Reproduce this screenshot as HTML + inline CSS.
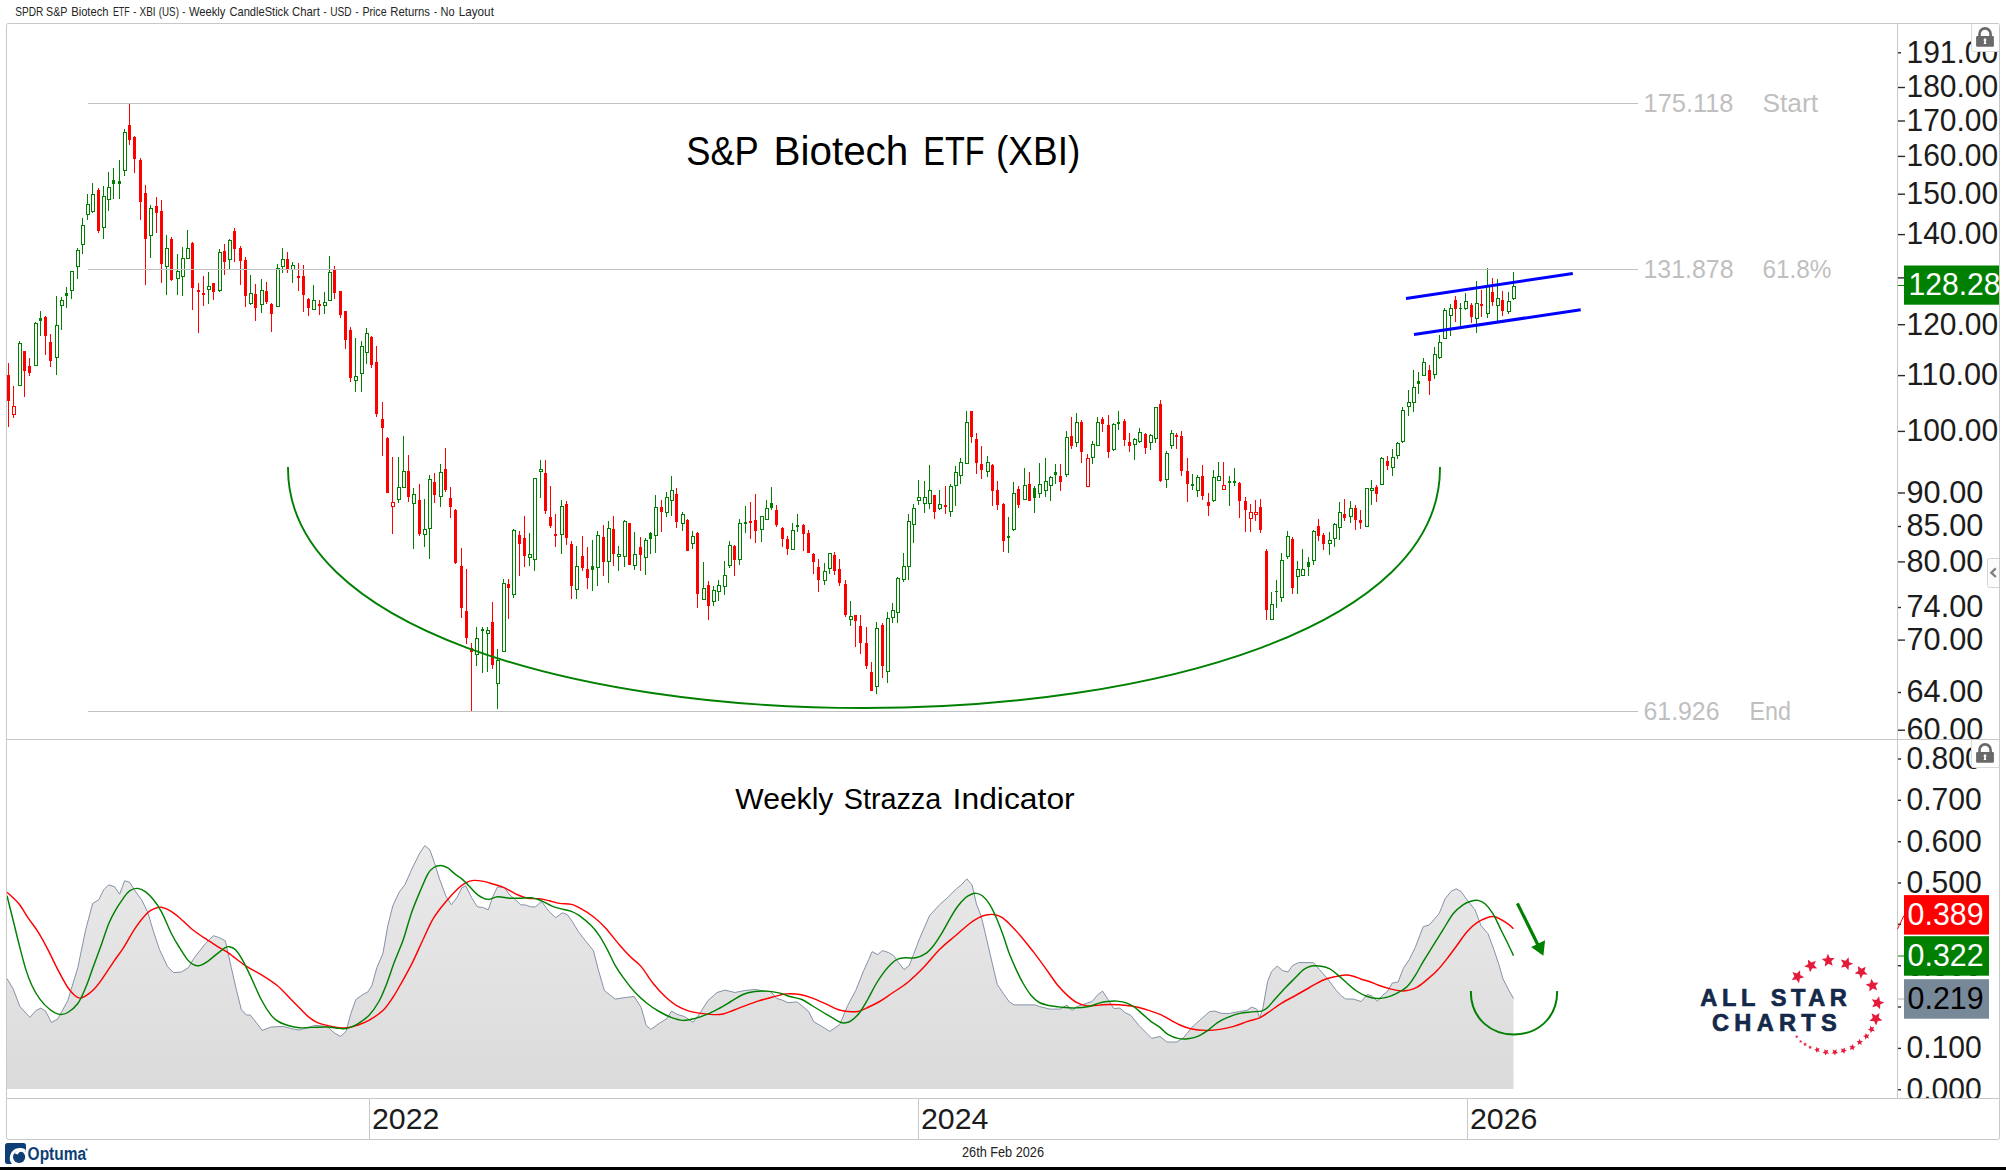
<!DOCTYPE html>
<html lang="en"><head><meta charset="utf-8"><title>SPDR S&amp;P Biotech ETF - XBI (US) - Weekly CandleStick Chart</title>
<style>html,body{margin:0;padding:0;background:#fff;}body{width:2006px;height:1170px;overflow:hidden;}svg{display:block;}text{font-family:"Liberation Sans", "DejaVu Sans", sans-serif;}</style>
</head><body>
<svg width="2006" height="1170" viewBox="0 0 2006 1170">
<defs>
<linearGradient id="gfill" x1="0" y1="845" x2="0" y2="1089" gradientUnits="userSpaceOnUse"><stop offset="0" stop-color="#eaeaea"/><stop offset="1" stop-color="#dbdbdb"/></linearGradient>
<clipPath id="cpPrice"><rect x="7" y="24" width="1890" height="715"/></clipPath>
<clipPath id="cpAxis1"><rect x="1898" y="24" width="101" height="715"/></clipPath>
<clipPath id="cpAxis2"><rect x="1898" y="740" width="101" height="358"/></clipPath>
<clipPath id="cpInd"><rect x="7" y="740" width="1890" height="358"/></clipPath>
</defs>
<rect x="0" y="0" width="2006" height="1170" fill="#ffffff"/>
<text x="15.2" y="16.2" font-size="12.6" fill="#252525" textLength="28.0" lengthAdjust="spacingAndGlyphs">SPDR</text>
<text x="46.1" y="16.2" font-size="12.6" fill="#252525" textLength="21.3" lengthAdjust="spacingAndGlyphs">S&amp;P</text>
<text x="71.2" y="16.2" font-size="12.6" fill="#252525" textLength="37.3" lengthAdjust="spacingAndGlyphs">Biotech</text>
<text x="112.9" y="16.2" font-size="12.6" fill="#252525" textLength="16.8" lengthAdjust="spacingAndGlyphs">ETF</text>
<text x="133.3" y="16.2" font-size="12.6" fill="#252525" textLength="3.0" lengthAdjust="spacingAndGlyphs">-</text>
<text x="139.6" y="16.2" font-size="12.6" fill="#252525" textLength="16.0" lengthAdjust="spacingAndGlyphs">XBI</text>
<text x="158.8" y="16.2" font-size="12.6" fill="#252525" textLength="20.1" lengthAdjust="spacingAndGlyphs">(US)</text>
<text x="182.3" y="16.2" font-size="12.6" fill="#252525" textLength="3.0" lengthAdjust="spacingAndGlyphs">-</text>
<text x="188.9" y="16.2" font-size="12.6" fill="#252525" textLength="36.5" lengthAdjust="spacingAndGlyphs">Weekly</text>
<text x="229.5" y="16.2" font-size="12.6" fill="#252525" textLength="59.2" lengthAdjust="spacingAndGlyphs">CandleStick</text>
<text x="292.1" y="16.2" font-size="12.6" fill="#252525" textLength="27.7" lengthAdjust="spacingAndGlyphs">Chart</text>
<text x="323.6" y="16.2" font-size="12.6" fill="#252525" textLength="3.0" lengthAdjust="spacingAndGlyphs">-</text>
<text x="330.2" y="16.2" font-size="12.6" fill="#252525" textLength="21.4" lengthAdjust="spacingAndGlyphs">USD</text>
<text x="355.6" y="16.2" font-size="12.6" fill="#252525" textLength="3.0" lengthAdjust="spacingAndGlyphs">-</text>
<text x="362.4" y="16.2" font-size="12.6" fill="#252525" textLength="24.2" lengthAdjust="spacingAndGlyphs">Price</text>
<text x="390.3" y="16.2" font-size="12.6" fill="#252525" textLength="39.7" lengthAdjust="spacingAndGlyphs">Returns</text>
<text x="434.0" y="16.2" font-size="12.6" fill="#252525" textLength="3.0" lengthAdjust="spacingAndGlyphs">-</text>
<text x="440.5" y="16.2" font-size="12.6" fill="#252525" textLength="14.1" lengthAdjust="spacingAndGlyphs">No</text>
<text x="458.7" y="16.2" font-size="12.6" fill="#252525" textLength="35.2" lengthAdjust="spacingAndGlyphs">Layout</text>
<g clip-path="url(#cpInd)">
<path d="M7.0,1089 L7.0,978.6 L13.0,988.5 L19.9,1006.5 L29.9,1017.4 L35.9,1010.5 L40.9,1008.1 L45.5,1011.1 L51.4,1022.4 L57.8,1019.0 L67.8,1000.5 L77.8,967.6 L85.7,929.7 L92.7,903.4 L98.7,899.8 L103.7,889.8 L108.7,884.8 L114.7,886.8 L119.6,894.2 L124.6,880.8 L129.6,882.2 L135.6,891.8 L141.6,899.8 L147.6,911.8 L153.5,931.7 L159.5,949.6 L167.5,966.6 L173.5,972.6 L181.5,972.0 L188.4,967.6 L194.4,957.6 L205.4,943.7 L213.4,935.7 L219.3,937.7 L225.3,940.7 L231.3,967.6 L236.3,989.5 L241.3,1009.5 L246.3,1015.0 L250.2,1015.0 L256.2,1022.4 L262.2,1030.4 L271.2,1027.0 L283.2,1026.4 L293.1,1029.0 L299.1,1030.0 L308.1,1027.4 L315.1,1025.4 L327.0,1026.4 L335.0,1033.4 L340.6,1036.4 L346.0,1031.4 L350.9,1013.4 L355.9,999.5 L362.9,994.5 L367.9,991.9 L371.9,985.5 L376.9,967.6 L382.9,953.6 L387.8,925.7 L392.8,905.8 L399.4,891.8 L404.9,884.8 L411.9,868.9 L419.9,852.9 L424.9,845.6 L429.9,849.9 L434.8,863.9 L439.8,879.9 L445.8,895.8 L451.4,904.8 L456.8,897.8 L461.8,887.8 L465.7,885.8 L471.7,897.8 L477.3,906.8 L482.7,907.4 L488.3,909.8 L492.7,896.8 L497.6,886.8 L504.6,887.8 L509.6,894.8 L515.6,899.8 L520.6,904.8 L525.6,905.0 L530.5,906.8 L535.5,906.8 L541.5,901.4 L548.5,910.8 L555.5,917.7 L562.5,912.8 L567.4,914.7 L572.4,921.7 L578.4,931.7 L585.4,940.7 L593.4,950.6 L598.3,969.6 L604.3,990.5 L609.3,994.5 L615.3,999.1 L625.3,997.5 L634.2,996.5 L641.2,1007.5 L646.2,1025.4 L650.8,1029.4 L659.2,1023.4 L667.1,1018.4 L671.5,1011.1 L677.1,1014.4 L684.1,1016.4 L693.1,1022.4 L701.0,1011.5 L708.0,1000.5 L717.0,992.5 L725.0,990.1 L734.9,992.5 L744.9,990.5 L755.9,989.5 L765.8,991.5 L770.8,991.5 L776.8,998.5 L781.9,999.9 L787.9,1002.7 L796.9,1001.9 L802.9,1006.5 L808.9,1011.9 L813.8,1021.8 L821.8,1026.4 L829.8,1031.4 L839.8,1024.4 L847.7,1005.5 L855.7,990.5 L863.7,970.6 L868.7,959.6 L872.1,951.6 L877.6,954.6 L882.6,950.6 L888.6,952.6 L893.6,955.6 L898.6,962.6 L904.0,969.6 L909.2,965.6 L913.5,954.6 L919.5,938.7 L929.5,915.7 L939.5,904.8 L947.4,897.8 L956.4,888.8 L961.4,884.8 L966.8,878.9 L972.0,884.8 L976.4,903.8 L981.3,916.7 L986.3,937.7 L992.3,963.6 L997.3,984.5 L1003.3,993.5 L1009.3,1001.9 L1014.2,1004.9 L1035.2,1004.9 L1039.2,1006.5 L1050.1,1009.1 L1060.1,1009.1 L1067.1,1005.1 L1072.1,1010.7 L1077.0,1006.5 L1085.0,1003.9 L1092.0,1001.5 L1098.0,994.5 L1102.6,991.1 L1108.0,999.5 L1113.9,1008.5 L1119.9,1008.1 L1124.9,1012.5 L1130.9,1015.4 L1138.9,1025.4 L1146.8,1033.4 L1151.8,1038.4 L1160.0,1036.4 L1166.9,1042.0 L1176.9,1042.0 L1183.9,1037.4 L1191.8,1027.4 L1201.8,1018.4 L1209.8,1011.5 L1214.8,1011.1 L1221.8,1013.4 L1229.7,1013.4 L1239.7,1011.5 L1246.7,1010.5 L1251.7,1007.1 L1256.7,1009.1 L1259.6,1017.4 L1262.6,1009.5 L1267.6,981.5 L1271.6,971.6 L1277.2,966.0 L1282.6,970.6 L1288.0,972.0 L1292.5,965.6 L1298.5,962.6 L1313.5,962.6 L1319.5,969.6 L1327.4,978.6 L1336.4,990.5 L1341.4,995.9 L1345.4,998.9 L1353.4,999.1 L1361.3,1001.5 L1367.3,994.5 L1372.3,996.1 L1377.3,1001.5 L1382.3,995.5 L1387.3,991.5 L1392.2,983.1 L1398.2,981.9 L1403.2,968.6 L1409.2,959.6 L1415.2,947.6 L1423.2,926.7 L1429.1,925.1 L1439.1,913.7 L1445.1,898.8 L1451.1,891.4 L1456.1,888.8 L1461.0,891.4 L1467.0,899.8 L1475.0,909.8 L1481.0,925.7 L1488.0,933.7 L1493.9,949.6 L1498.9,964.6 L1502.9,978.6 L1508.9,990.5 L1513.5,998.5 L1513.5,1089 Z" fill="url(#gfill)" stroke="none"/>
<path d="M7.0,978.6 L13.0,988.5 L19.9,1006.5 L29.9,1017.4 L35.9,1010.5 L40.9,1008.1 L45.5,1011.1 L51.4,1022.4 L57.8,1019.0 L67.8,1000.5 L77.8,967.6 L85.7,929.7 L92.7,903.4 L98.7,899.8 L103.7,889.8 L108.7,884.8 L114.7,886.8 L119.6,894.2 L124.6,880.8 L129.6,882.2 L135.6,891.8 L141.6,899.8 L147.6,911.8 L153.5,931.7 L159.5,949.6 L167.5,966.6 L173.5,972.6 L181.5,972.0 L188.4,967.6 L194.4,957.6 L205.4,943.7 L213.4,935.7 L219.3,937.7 L225.3,940.7 L231.3,967.6 L236.3,989.5 L241.3,1009.5 L246.3,1015.0 L250.2,1015.0 L256.2,1022.4 L262.2,1030.4 L271.2,1027.0 L283.2,1026.4 L293.1,1029.0 L299.1,1030.0 L308.1,1027.4 L315.1,1025.4 L327.0,1026.4 L335.0,1033.4 L340.6,1036.4 L346.0,1031.4 L350.9,1013.4 L355.9,999.5 L362.9,994.5 L367.9,991.9 L371.9,985.5 L376.9,967.6 L382.9,953.6 L387.8,925.7 L392.8,905.8 L399.4,891.8 L404.9,884.8 L411.9,868.9 L419.9,852.9 L424.9,845.6 L429.9,849.9 L434.8,863.9 L439.8,879.9 L445.8,895.8 L451.4,904.8 L456.8,897.8 L461.8,887.8 L465.7,885.8 L471.7,897.8 L477.3,906.8 L482.7,907.4 L488.3,909.8 L492.7,896.8 L497.6,886.8 L504.6,887.8 L509.6,894.8 L515.6,899.8 L520.6,904.8 L525.6,905.0 L530.5,906.8 L535.5,906.8 L541.5,901.4 L548.5,910.8 L555.5,917.7 L562.5,912.8 L567.4,914.7 L572.4,921.7 L578.4,931.7 L585.4,940.7 L593.4,950.6 L598.3,969.6 L604.3,990.5 L609.3,994.5 L615.3,999.1 L625.3,997.5 L634.2,996.5 L641.2,1007.5 L646.2,1025.4 L650.8,1029.4 L659.2,1023.4 L667.1,1018.4 L671.5,1011.1 L677.1,1014.4 L684.1,1016.4 L693.1,1022.4 L701.0,1011.5 L708.0,1000.5 L717.0,992.5 L725.0,990.1 L734.9,992.5 L744.9,990.5 L755.9,989.5 L765.8,991.5 L770.8,991.5 L776.8,998.5 L781.9,999.9 L787.9,1002.7 L796.9,1001.9 L802.9,1006.5 L808.9,1011.9 L813.8,1021.8 L821.8,1026.4 L829.8,1031.4 L839.8,1024.4 L847.7,1005.5 L855.7,990.5 L863.7,970.6 L868.7,959.6 L872.1,951.6 L877.6,954.6 L882.6,950.6 L888.6,952.6 L893.6,955.6 L898.6,962.6 L904.0,969.6 L909.2,965.6 L913.5,954.6 L919.5,938.7 L929.5,915.7 L939.5,904.8 L947.4,897.8 L956.4,888.8 L961.4,884.8 L966.8,878.9 L972.0,884.8 L976.4,903.8 L981.3,916.7 L986.3,937.7 L992.3,963.6 L997.3,984.5 L1003.3,993.5 L1009.3,1001.9 L1014.2,1004.9 L1035.2,1004.9 L1039.2,1006.5 L1050.1,1009.1 L1060.1,1009.1 L1067.1,1005.1 L1072.1,1010.7 L1077.0,1006.5 L1085.0,1003.9 L1092.0,1001.5 L1098.0,994.5 L1102.6,991.1 L1108.0,999.5 L1113.9,1008.5 L1119.9,1008.1 L1124.9,1012.5 L1130.9,1015.4 L1138.9,1025.4 L1146.8,1033.4 L1151.8,1038.4 L1160.0,1036.4 L1166.9,1042.0 L1176.9,1042.0 L1183.9,1037.4 L1191.8,1027.4 L1201.8,1018.4 L1209.8,1011.5 L1214.8,1011.1 L1221.8,1013.4 L1229.7,1013.4 L1239.7,1011.5 L1246.7,1010.5 L1251.7,1007.1 L1256.7,1009.1 L1259.6,1017.4 L1262.6,1009.5 L1267.6,981.5 L1271.6,971.6 L1277.2,966.0 L1282.6,970.6 L1288.0,972.0 L1292.5,965.6 L1298.5,962.6 L1313.5,962.6 L1319.5,969.6 L1327.4,978.6 L1336.4,990.5 L1341.4,995.9 L1345.4,998.9 L1353.4,999.1 L1361.3,1001.5 L1367.3,994.5 L1372.3,996.1 L1377.3,1001.5 L1382.3,995.5 L1387.3,991.5 L1392.2,983.1 L1398.2,981.9 L1403.2,968.6 L1409.2,959.6 L1415.2,947.6 L1423.2,926.7 L1429.1,925.1 L1439.1,913.7 L1445.1,898.8 L1451.1,891.4 L1456.1,888.8 L1461.0,891.4 L1467.0,899.8 L1475.0,909.8 L1481.0,925.7 L1488.0,933.7 L1493.9,949.6 L1498.9,964.6 L1502.9,978.6 L1508.9,990.5 L1513.5,998.5" fill="none" stroke="#8492a6" stroke-width="1" stroke-linejoin="round"/>
<path d="M7.0,892.2 C9.0,894.1 15.4,899.5 18.9,903.8 C22.4,908.0 24.7,913.1 27.9,917.7 C31.1,922.4 34.6,926.4 37.9,931.7 C41.2,937.0 44.6,943.3 47.9,949.6 C51.2,955.9 54.5,963.3 57.8,969.6 C61.1,975.9 65.0,983.2 67.8,987.5 C70.6,991.8 72.8,993.7 74.8,995.5 C76.8,997.3 78.0,998.0 79.8,998.1 C81.6,998.2 83.4,997.3 85.7,995.9 C88.0,994.5 91.0,992.2 93.7,989.5 C96.4,986.8 98.4,984.2 101.7,979.6 C105.0,975.0 110.1,966.9 113.7,961.6 C117.3,956.3 119.9,953.2 123.6,947.6 C127.2,942.0 131.6,933.5 135.6,927.7 C139.6,921.9 144.3,916.0 147.6,912.8 C150.9,909.5 153.2,909.1 155.5,908.2 C157.8,907.3 159.2,906.8 161.5,907.2 C163.8,907.6 166.5,908.6 169.5,910.4 C172.5,912.1 175.8,914.7 179.5,917.7 C183.2,920.8 187.1,925.2 191.4,928.7 C195.7,932.2 200.8,935.6 205.4,938.7 C210.1,941.9 215.3,945.1 219.3,947.6 C223.3,950.1 225.0,950.6 229.3,953.6 C233.6,956.6 240.0,962.1 245.3,965.6 C250.6,969.1 255.9,971.3 261.2,974.6 C266.5,977.9 272.2,981.4 277.2,985.5 C282.2,989.6 287.1,995.5 291.1,999.5 C295.1,1003.5 298.1,1006.5 301.1,1009.5 C304.1,1012.5 306.5,1015.2 309.1,1017.4 C311.8,1019.5 314.0,1021.1 317.0,1022.4 C320.0,1023.7 323.7,1024.6 327.0,1025.4 C330.3,1026.2 333.7,1027.0 337.0,1027.4 C340.3,1027.8 343.7,1028.1 347.0,1027.8 C350.3,1027.5 353.2,1026.6 356.9,1025.4 C360.5,1024.2 364.6,1022.9 368.9,1020.4 C373.2,1017.9 378.9,1014.3 382.9,1010.5 C386.9,1006.7 390.1,1001.5 392.8,997.5 C395.6,993.5 396.2,992.1 399.4,986.5 C402.6,980.9 407.8,971.7 411.9,963.6 C416.0,955.5 420.2,945.4 423.9,937.7 C427.5,930.1 430.1,923.7 433.8,917.7 C437.5,911.7 441.8,906.6 445.8,901.8 C449.8,897.0 454.5,892.0 457.8,888.8 C461.1,885.6 463.1,884.2 465.7,882.8 C468.3,881.4 470.7,880.6 473.7,880.4 C476.7,880.2 480.4,880.8 483.7,881.4 C487.0,882.0 490.4,883.2 493.7,884.2 C497.0,885.2 500.0,885.8 503.6,887.4 C507.2,889.0 511.6,892.0 515.6,893.8 C519.6,895.6 523.6,897.4 527.6,898.2 C531.6,899.0 535.9,898.4 539.5,898.8 C543.1,899.2 546.2,900.0 549.5,900.8 C552.8,901.6 555.9,902.8 559.5,903.4 C563.1,904.0 567.8,903.5 571.4,904.4 C575.0,905.3 577.7,906.8 581.4,908.8 C585.1,910.8 589.4,913.6 593.4,916.7 C597.4,919.9 601.0,923.0 605.3,927.7 C609.6,932.4 615.0,939.7 619.3,944.7 C623.6,949.7 627.6,954.0 631.2,957.6 C634.9,961.2 637.5,962.3 641.2,966.6 C644.9,970.9 649.2,978.5 653.2,983.5 C657.2,988.5 661.1,992.8 665.1,996.5 C669.1,1000.2 673.1,1003.5 677.1,1005.9 C681.1,1008.3 685.1,1009.9 689.1,1011.1 C693.1,1012.4 697.0,1012.8 701.0,1013.4 C705.0,1014.0 709.3,1014.5 713.0,1014.6 C716.7,1014.7 719.7,1014.7 723.0,1014.0 C726.3,1013.3 729.2,1011.9 732.9,1010.5 C736.5,1009.1 740.6,1007.5 744.9,1005.9 C749.2,1004.3 754.6,1002.3 758.9,1000.9 C763.2,999.5 767.3,998.5 770.8,997.5 C774.3,996.5 777.5,995.7 780.0,995.1 C782.5,994.5 782.6,994.0 785.9,993.9 C789.2,993.8 795.6,993.8 799.9,994.5 C804.2,995.2 807.5,996.3 811.8,997.9 C816.1,999.5 821.5,1002.0 825.8,1003.9 C830.1,1005.8 834.1,1008.2 837.8,1009.5 C841.4,1010.8 844.4,1011.2 847.7,1011.5 C851.0,1011.8 854.4,1012.2 857.7,1011.5 C861.0,1010.8 864.1,1009.2 867.7,1007.5 C871.4,1005.8 875.6,1003.8 879.6,1001.5 C883.6,999.2 886.9,996.7 891.6,993.5 C896.3,990.3 902.3,986.8 907.6,982.5 C912.9,978.2 918.2,973.1 923.5,967.6 C928.8,962.1 934.2,954.9 939.5,949.6 C944.8,944.3 950.4,940.0 955.4,935.7 C960.4,931.4 965.4,926.8 969.4,923.7 C973.4,920.6 976.3,918.8 979.3,917.3 C982.3,915.8 984.6,915.1 987.3,914.7 C990.0,914.3 992.8,914.2 995.3,914.7 C997.8,915.2 999.6,915.9 1002.3,917.7 C1004.9,919.5 1008.1,922.5 1011.2,925.7 C1014.4,928.9 1017.5,932.4 1021.2,936.7 C1024.9,941.0 1029.2,946.5 1033.2,951.6 C1037.2,956.8 1041.1,962.1 1045.1,967.6 C1049.1,973.1 1053.4,979.9 1057.1,984.5 C1060.8,989.1 1063.8,992.1 1067.1,995.1 C1070.4,998.1 1073.7,1000.9 1077.0,1002.7 C1080.3,1004.5 1083.3,1005.5 1087.0,1005.9 C1090.7,1006.3 1095.0,1005.3 1099.0,1005.1 C1103.0,1004.9 1106.2,1004.4 1110.9,1004.5 C1115.6,1004.6 1122.2,1005.0 1126.9,1005.5 C1131.6,1006.0 1134.9,1006.6 1138.9,1007.5 C1142.9,1008.4 1147.3,1010.0 1150.8,1011.1 C1154.3,1012.2 1157.5,1013.4 1160.0,1014.4 C1162.5,1015.4 1162.6,1015.6 1165.9,1017.4 C1169.2,1019.2 1175.6,1023.1 1179.9,1025.0 C1184.2,1026.9 1187.5,1028.1 1191.8,1029.0 C1196.1,1029.9 1201.1,1030.3 1205.8,1030.4 C1210.5,1030.5 1215.1,1030.1 1219.8,1029.4 C1224.5,1028.7 1229.0,1027.7 1233.7,1026.4 C1238.4,1025.1 1243.4,1022.8 1247.7,1021.4 C1252.0,1020.0 1255.9,1019.4 1259.6,1017.8 C1263.2,1016.1 1265.9,1014.0 1269.6,1011.5 C1273.3,1009.0 1277.3,1005.8 1281.6,1003.1 C1285.9,1000.4 1290.8,998.1 1295.5,995.5 C1300.2,992.9 1304.8,990.1 1309.5,987.5 C1314.2,984.9 1319.1,981.8 1323.4,980.0 C1327.7,978.2 1331.7,977.4 1335.4,976.6 C1339.1,975.8 1342.4,975.1 1345.4,975.0 C1348.4,974.9 1350.8,975.5 1353.4,976.2 C1356.1,976.9 1358.7,978.3 1361.3,979.2 C1363.9,980.1 1366.3,980.5 1369.3,981.5 C1372.3,982.5 1375.6,984.2 1379.3,985.5 C1383.0,986.8 1387.5,988.2 1391.2,989.1 C1394.9,990.0 1398.2,990.7 1401.2,990.9 C1404.2,991.1 1406.5,990.7 1409.2,990.1 C1411.9,989.5 1414.2,988.9 1417.2,987.1 C1420.2,985.4 1423.8,982.4 1427.1,979.6 C1430.4,976.9 1433.8,974.1 1437.1,970.6 C1440.4,967.1 1443.8,962.8 1447.1,958.6 C1450.4,954.4 1453.7,949.8 1457.0,945.3 C1460.3,940.8 1463.7,935.5 1467.0,931.7 C1470.3,927.9 1473.7,925.0 1477.0,922.7 C1480.3,920.4 1484.0,918.7 1487.0,917.7 C1490.0,916.7 1492.2,916.2 1494.9,916.7 C1497.6,917.2 1500.6,919.4 1502.9,920.7 C1505.2,922.0 1507.1,923.4 1508.9,924.7 C1510.7,926.0 1512.7,928.0 1513.5,928.7" fill="none" stroke="#ff0000" stroke-width="1.45"/>
<path d="M7.0,895.8 C8.2,900.4 11.8,915.1 14.0,923.7 C16.1,932.3 17.9,940.0 19.9,947.6 C21.9,955.2 23.9,963.3 25.9,969.6 C27.9,975.9 29.6,980.6 31.9,985.5 C34.2,990.4 36.9,995.1 39.9,999.1 C42.9,1003.1 46.6,1007.0 49.9,1009.5 C53.2,1012.0 56.8,1013.9 59.8,1014.4 C62.8,1014.9 64.8,1014.3 67.8,1012.5 C70.8,1010.7 74.8,1007.7 77.8,1003.5 C80.8,999.3 83.0,993.8 85.7,987.5 C88.4,981.2 91.0,972.9 93.7,965.6 C96.4,958.3 99.2,950.7 101.7,943.7 C104.2,936.7 106.4,929.4 108.7,923.7 C111.0,918.1 113.2,914.1 115.7,909.8 C118.2,905.5 121.3,901.0 123.6,897.8 C125.9,894.6 127.3,892.4 129.6,890.8 C131.9,889.2 134.9,888.2 137.6,888.4 C140.3,888.6 142.9,889.9 145.6,891.8 C148.2,893.7 150.8,896.5 153.5,899.8 C156.2,903.1 158.5,906.1 161.5,911.8 C164.5,917.4 168.5,927.7 171.5,933.7 C174.5,939.7 176.8,943.3 179.5,947.6 C182.2,951.9 185.1,956.8 187.4,959.6 C189.7,962.4 191.4,963.6 193.4,964.6 C195.4,965.6 197.1,966.1 199.4,965.6 C201.7,965.1 204.4,963.6 207.4,961.6 C210.4,959.6 214.3,955.9 217.3,953.6 C220.3,951.3 223.3,948.8 225.3,947.6 C227.3,946.5 227.6,946.4 229.3,946.7 C231.0,947.0 233.1,947.5 235.3,949.6 C237.5,951.8 239.7,954.9 242.3,959.6 C245.0,964.3 248.0,971.0 251.2,977.6 C254.3,984.2 257.9,993.2 261.2,999.5 C264.5,1005.8 268.2,1011.6 271.2,1015.4 C274.2,1019.1 276.2,1020.3 279.2,1022.0 C282.2,1023.7 285.8,1024.8 289.1,1025.8 C292.4,1026.8 295.4,1027.5 299.1,1027.8 C302.8,1028.1 306.5,1027.5 311.1,1027.4 C315.8,1027.3 322.4,1026.8 327.0,1027.0 C331.6,1027.2 335.7,1028.2 339.0,1028.4 C342.3,1028.6 344.0,1029.1 347.0,1028.4 C350.0,1027.7 353.2,1026.6 356.9,1024.4 C360.5,1022.2 365.2,1019.2 368.9,1015.4 C372.6,1011.6 375.9,1006.8 378.9,1001.5 C381.9,996.2 384.3,989.8 386.8,983.5 C389.3,977.2 391.7,969.2 393.8,963.6 C395.9,958.0 397.7,953.9 399.4,949.6 C401.1,945.3 401.8,944.0 403.9,937.7 C406.0,931.4 409.2,919.4 411.9,911.8 C414.6,904.1 417.2,898.1 419.9,891.8 C422.6,885.5 425.6,877.9 427.9,873.9 C430.2,869.9 431.6,868.9 433.8,867.5 C436.0,866.1 438.5,865.4 440.8,865.5 C443.1,865.6 445.5,866.5 447.8,867.9 C450.1,869.3 452.5,872.1 454.8,873.9 C457.1,875.7 459.3,876.8 461.8,878.9 C464.3,881.0 467.1,884.1 469.7,886.8 C472.3,889.4 474.7,892.7 477.7,894.8 C480.7,896.9 484.4,899.1 487.7,899.4 C491.0,899.7 494.0,897.0 497.6,896.8 C501.2,896.6 505.9,898.0 509.6,898.2 C513.3,898.4 516.0,898.3 519.6,898.2 C523.2,898.1 527.9,897.4 531.5,897.8 C535.1,898.2 538.2,899.5 541.5,900.8 C544.8,902.1 548.5,904.5 551.5,905.8 C554.5,907.1 556.2,907.5 559.5,908.4 C562.8,909.3 568.1,910.2 571.4,911.4 C574.7,912.6 576.1,913.3 579.4,915.7 C582.7,918.1 588.1,922.4 591.4,925.7 C594.7,929.0 596.6,931.7 599.3,935.7 C601.9,939.7 604.6,944.6 607.3,949.6 C610.0,954.6 612.6,960.9 615.3,965.6 C618.0,970.3 620.0,973.1 623.3,977.6 C626.6,982.1 631.2,988.2 635.2,992.5 C639.2,996.8 643.2,1000.3 647.2,1003.5 C651.2,1006.7 655.2,1009.2 659.2,1011.5 C663.2,1013.8 667.1,1015.9 671.1,1017.4 C675.1,1018.9 679.1,1020.2 683.1,1020.4 C687.1,1020.6 691.1,1019.4 695.1,1018.4 C699.1,1017.4 703.0,1016.0 707.0,1014.4 C711.0,1012.8 715.0,1010.6 719.0,1008.5 C723.0,1006.4 726.9,1003.8 730.9,1001.5 C734.9,999.2 738.9,996.2 742.9,994.5 C746.9,992.8 750.9,992.1 754.9,991.5 C758.9,990.9 762.6,990.8 766.8,991.1 C771.0,991.4 776.1,992.2 780.0,993.1 C783.9,994.0 786.2,995.4 789.9,996.5 C793.5,997.6 798.2,998.0 801.9,999.5 C805.5,1001.0 808.5,1003.5 811.8,1005.5 C815.1,1007.5 818.5,1009.5 821.8,1011.5 C825.1,1013.5 828.8,1015.6 831.8,1017.4 C834.8,1019.1 837.5,1021.1 839.8,1022.0 C842.1,1022.9 843.7,1023.1 845.7,1022.8 C847.7,1022.5 849.4,1022.1 851.7,1020.4 C854.0,1018.7 857.0,1016.0 859.7,1012.5 C862.4,1009.0 865.0,1004.2 867.7,999.5 C870.4,994.8 873.1,989.0 875.7,984.5 C878.4,980.0 881.0,976.1 883.6,972.6 C886.2,969.1 889.3,965.8 891.6,963.6 C893.9,961.4 895.3,960.2 897.6,959.2 C899.9,958.2 902.6,958.0 905.6,957.8 C908.6,957.6 912.2,958.5 915.5,957.8 C918.8,957.1 922.5,955.6 925.5,953.6 C928.5,951.6 930.8,949.0 933.5,945.7 C936.2,942.4 938.9,938.0 941.5,933.7 C944.1,929.4 946.8,924.2 949.4,919.7 C952.0,915.2 954.7,910.4 957.4,906.8 C960.1,903.1 963.1,899.9 965.4,897.8 C967.7,895.7 969.6,894.9 971.4,894.2 C973.2,893.5 974.6,893.1 976.4,893.4 C978.2,893.7 980.1,894.1 982.3,895.8 C984.4,897.5 987.0,900.1 989.3,903.8 C991.6,907.4 994.0,912.4 996.3,917.7 C998.6,923.0 1001.1,929.7 1003.3,935.7 C1005.5,941.7 1007.1,948.0 1009.3,953.6 C1011.4,959.2 1013.9,964.6 1016.2,969.6 C1018.5,974.6 1020.7,979.2 1023.2,983.5 C1025.7,987.8 1028.5,992.3 1031.2,995.5 C1033.9,998.7 1036.2,1000.8 1039.2,1002.5 C1042.2,1004.2 1045.4,1004.7 1049.1,1005.5 C1052.8,1006.3 1056.8,1006.7 1061.1,1007.1 C1065.4,1007.5 1070.4,1008.0 1075.1,1007.9 C1079.8,1007.8 1085.0,1007.3 1089.0,1006.5 C1093.0,1005.7 1096.0,1003.9 1099.0,1003.1 C1102.0,1002.3 1104.0,1001.8 1107.0,1001.5 C1110.0,1001.2 1113.6,1000.8 1116.9,1001.1 C1120.2,1001.4 1123.9,1002.0 1126.9,1003.1 C1129.9,1004.2 1132.2,1005.6 1134.9,1007.5 C1137.6,1009.4 1140.2,1012.1 1142.9,1014.4 C1145.6,1016.7 1148.0,1019.2 1150.8,1021.4 C1153.6,1023.6 1157.2,1025.2 1160.0,1027.4 C1162.8,1029.6 1164.9,1032.6 1167.9,1034.4 C1170.9,1036.2 1174.6,1037.7 1177.9,1038.4 C1181.2,1039.1 1184.6,1039.1 1187.9,1038.8 C1191.2,1038.5 1194.5,1037.8 1197.8,1036.4 C1201.1,1035.0 1204.5,1032.7 1207.8,1030.4 C1211.1,1028.1 1214.5,1024.6 1217.8,1022.4 C1221.1,1020.2 1224.0,1018.9 1227.7,1017.4 C1231.4,1015.9 1235.7,1014.3 1239.7,1013.4 C1243.7,1012.5 1248.1,1012.3 1251.7,1011.9 C1255.3,1011.5 1258.9,1011.8 1261.6,1011.1 C1264.2,1010.4 1265.3,1009.6 1267.6,1007.5 C1269.9,1005.4 1272.6,1001.8 1275.6,998.5 C1278.6,995.2 1282.3,991.0 1285.6,987.5 C1288.9,984.0 1292.5,980.6 1295.5,977.6 C1298.5,974.6 1300.8,971.5 1303.5,969.6 C1306.2,967.7 1308.8,966.6 1311.5,966.0 C1314.2,965.4 1316.5,965.6 1319.5,966.0 C1322.5,966.4 1326.4,967.2 1329.4,968.6 C1332.4,970.0 1334.4,972.1 1337.4,974.6 C1340.4,977.1 1344.1,980.7 1347.4,983.5 C1350.7,986.3 1354.0,989.3 1357.3,991.5 C1360.6,993.7 1364.0,995.3 1367.3,996.5 C1370.6,997.7 1374.0,998.4 1377.3,998.5 C1380.6,998.6 1384.0,998.0 1387.3,997.1 C1390.6,996.2 1393.9,994.9 1397.2,993.1 C1400.5,991.3 1404.2,989.4 1407.2,986.5 C1410.2,983.6 1412.5,979.8 1415.2,975.6 C1417.9,971.5 1420.2,966.6 1423.2,961.6 C1426.2,956.6 1429.8,951.0 1433.1,945.7 C1436.4,940.4 1439.8,935.0 1443.1,929.7 C1446.4,924.4 1449.8,917.9 1453.1,913.7 C1456.4,909.6 1460.0,906.9 1463.0,904.8 C1466.0,902.7 1468.5,901.9 1471.0,901.2 C1473.5,900.5 1475.7,900.0 1478.0,900.4 C1480.3,900.8 1482.5,901.6 1485.0,903.8 C1487.5,906.0 1490.2,909.4 1492.9,913.7 C1495.6,918.0 1498.4,924.7 1500.9,929.7 C1503.4,934.7 1505.8,939.4 1507.9,943.7 C1510.0,948.0 1512.6,953.6 1513.5,955.6" fill="none" stroke="#008000" stroke-width="1.45"/>
<path d="M1470.8,991 C1470.8,1049 1557.2,1049 1557.2,991" fill="none" stroke="#008000" stroke-width="2"/>
<line x1="1517.4" y1="903.4" x2="1538" y2="945" stroke="#008000" stroke-width="3.2"/>
<polygon points="1543.4,955.7 1531.1,946.9 1545.1,940.3" fill="#008000"/>
</g>
<g clip-path="url(#cpPrice)" shape-rendering="crispEdges">
<rect x="8" y="363" width="1" height="64" fill="#ff0000"/>
<rect x="7" y="375" width="3" height="26" fill="#ff0000"/>
<rect x="13" y="386" width="1" height="32" fill="#ff0000"/>
<rect x="12" y="406" width="4" height="9" fill="#ff0000"/>
<rect x="13" y="407" width="2" height="7" fill="#ffffff"/>
<rect x="19" y="341" width="1" height="45" fill="#008000"/>
<rect x="18" y="343" width="4" height="43" fill="#008000"/>
<rect x="19" y="344" width="2" height="41" fill="#ffffff"/>
<rect x="24" y="351" width="1" height="46" fill="#ff0000"/>
<rect x="23" y="351" width="3" height="20" fill="#ff0000"/>
<rect x="29" y="358" width="1" height="18" fill="#ff0000"/>
<rect x="28" y="366" width="3" height="7" fill="#ff0000"/>
<rect x="35" y="322" width="1" height="44" fill="#008000"/>
<rect x="34" y="323" width="4" height="43" fill="#008000"/>
<rect x="35" y="324" width="2" height="41" fill="#ffffff"/>
<rect x="40" y="311" width="1" height="25" fill="#008000"/>
<rect x="39" y="318" width="3" height="3" fill="#008000"/>
<rect x="45" y="316" width="1" height="39" fill="#ff0000"/>
<rect x="44" y="317" width="3" height="19" fill="#ff0000"/>
<rect x="50" y="334" width="1" height="33" fill="#ff0000"/>
<rect x="49" y="342" width="3" height="19" fill="#ff0000"/>
<rect x="56" y="296" width="1" height="79" fill="#008000"/>
<rect x="55" y="325" width="4" height="33" fill="#008000"/>
<rect x="56" y="326" width="2" height="31" fill="#ffffff"/>
<rect x="61" y="297" width="1" height="33" fill="#008000"/>
<rect x="60" y="300" width="4" height="6" fill="#008000"/>
<rect x="61" y="301" width="2" height="4" fill="#ffffff"/>
<rect x="66" y="287" width="1" height="21" fill="#008000"/>
<rect x="65" y="293" width="3" height="3" fill="#008000"/>
<rect x="71" y="271" width="1" height="28" fill="#008000"/>
<rect x="70" y="271" width="4" height="20" fill="#008000"/>
<rect x="71" y="272" width="2" height="18" fill="#ffffff"/>
<rect x="77" y="248" width="1" height="31" fill="#008000"/>
<rect x="76" y="250" width="4" height="17" fill="#008000"/>
<rect x="77" y="251" width="2" height="15" fill="#ffffff"/>
<rect x="82" y="218" width="1" height="36" fill="#008000"/>
<rect x="81" y="225" width="4" height="20" fill="#008000"/>
<rect x="82" y="226" width="2" height="18" fill="#ffffff"/>
<rect x="87" y="194" width="1" height="26" fill="#008000"/>
<rect x="86" y="204" width="4" height="11" fill="#008000"/>
<rect x="87" y="205" width="2" height="9" fill="#ffffff"/>
<rect x="92" y="183" width="1" height="30" fill="#008000"/>
<rect x="91" y="194" width="4" height="18" fill="#008000"/>
<rect x="92" y="195" width="2" height="16" fill="#ffffff"/>
<rect x="98" y="188" width="1" height="45" fill="#ff0000"/>
<rect x="97" y="190" width="3" height="41" fill="#ff0000"/>
<rect x="103" y="186" width="1" height="53" fill="#008000"/>
<rect x="102" y="196" width="4" height="32" fill="#008000"/>
<rect x="103" y="197" width="2" height="30" fill="#ffffff"/>
<rect x="108" y="172" width="1" height="39" fill="#008000"/>
<rect x="107" y="187" width="4" height="13" fill="#008000"/>
<rect x="108" y="188" width="2" height="11" fill="#ffffff"/>
<rect x="113" y="168" width="1" height="31" fill="#008000"/>
<rect x="112" y="180" width="3" height="4" fill="#008000"/>
<rect x="119" y="160" width="1" height="39" fill="#008000"/>
<rect x="118" y="181" width="3" height="3" fill="#008000"/>
<rect x="124" y="129" width="1" height="47" fill="#008000"/>
<rect x="123" y="132" width="4" height="39" fill="#008000"/>
<rect x="124" y="133" width="2" height="37" fill="#ffffff"/>
<rect x="129" y="104" width="1" height="41" fill="#ff0000"/>
<rect x="128" y="125" width="3" height="15" fill="#ff0000"/>
<rect x="134" y="136" width="1" height="37" fill="#ff0000"/>
<rect x="133" y="137" width="3" height="22" fill="#ff0000"/>
<rect x="140" y="158" width="1" height="62" fill="#ff0000"/>
<rect x="139" y="160" width="3" height="42" fill="#ff0000"/>
<rect x="145" y="185" width="1" height="100" fill="#ff0000"/>
<rect x="144" y="193" width="3" height="46" fill="#ff0000"/>
<rect x="150" y="205" width="1" height="53" fill="#008000"/>
<rect x="149" y="208" width="4" height="28" fill="#008000"/>
<rect x="150" y="209" width="2" height="26" fill="#ffffff"/>
<rect x="156" y="197" width="1" height="36" fill="#ff0000"/>
<rect x="155" y="206" width="3" height="7" fill="#ff0000"/>
<rect x="161" y="200" width="1" height="83" fill="#ff0000"/>
<rect x="160" y="211" width="3" height="53" fill="#ff0000"/>
<rect x="166" y="235" width="1" height="60" fill="#008000"/>
<rect x="165" y="248" width="4" height="19" fill="#008000"/>
<rect x="166" y="249" width="2" height="17" fill="#ffffff"/>
<rect x="171" y="237" width="1" height="44" fill="#ff0000"/>
<rect x="170" y="239" width="3" height="41" fill="#ff0000"/>
<rect x="177" y="254" width="1" height="41" fill="#008000"/>
<rect x="176" y="271" width="4" height="8" fill="#008000"/>
<rect x="177" y="272" width="2" height="6" fill="#ffffff"/>
<rect x="182" y="247" width="1" height="49" fill="#008000"/>
<rect x="181" y="258" width="4" height="19" fill="#008000"/>
<rect x="182" y="259" width="2" height="17" fill="#ffffff"/>
<rect x="187" y="230" width="1" height="29" fill="#008000"/>
<rect x="186" y="248" width="4" height="11" fill="#008000"/>
<rect x="187" y="249" width="2" height="9" fill="#ffffff"/>
<rect x="192" y="242" width="1" height="68" fill="#ff0000"/>
<rect x="191" y="243" width="3" height="45" fill="#ff0000"/>
<rect x="198" y="283" width="1" height="50" fill="#ff0000"/>
<rect x="197" y="290" width="3" height="2" fill="#ff0000"/>
<rect x="203" y="276" width="1" height="30" fill="#ff0000"/>
<rect x="202" y="293" width="3" height="2" fill="#ff0000"/>
<rect x="208" y="272" width="1" height="32" fill="#008000"/>
<rect x="207" y="286" width="4" height="4" fill="#008000"/>
<rect x="208" y="287" width="2" height="2" fill="#ffffff"/>
<rect x="213" y="283" width="1" height="17" fill="#ff0000"/>
<rect x="212" y="283" width="3" height="9" fill="#ff0000"/>
<rect x="219" y="249" width="1" height="43" fill="#008000"/>
<rect x="218" y="252" width="4" height="39" fill="#008000"/>
<rect x="219" y="253" width="2" height="37" fill="#ffffff"/>
<rect x="224" y="244" width="1" height="31" fill="#ff0000"/>
<rect x="223" y="251" width="3" height="11" fill="#ff0000"/>
<rect x="229" y="239" width="1" height="30" fill="#008000"/>
<rect x="228" y="240" width="4" height="20" fill="#008000"/>
<rect x="229" y="241" width="2" height="18" fill="#ffffff"/>
<rect x="234" y="228" width="1" height="34" fill="#ff0000"/>
<rect x="233" y="231" width="3" height="18" fill="#ff0000"/>
<rect x="240" y="246" width="1" height="39" fill="#ff0000"/>
<rect x="239" y="248" width="3" height="13" fill="#ff0000"/>
<rect x="245" y="257" width="1" height="50" fill="#ff0000"/>
<rect x="244" y="260" width="3" height="36" fill="#ff0000"/>
<rect x="250" y="275" width="1" height="30" fill="#008000"/>
<rect x="249" y="293" width="4" height="11" fill="#008000"/>
<rect x="250" y="294" width="2" height="9" fill="#ffffff"/>
<rect x="255" y="284" width="1" height="37" fill="#ff0000"/>
<rect x="254" y="294" width="3" height="14" fill="#ff0000"/>
<rect x="261" y="279" width="1" height="34" fill="#008000"/>
<rect x="260" y="290" width="4" height="15" fill="#008000"/>
<rect x="261" y="291" width="2" height="13" fill="#ffffff"/>
<rect x="266" y="282" width="1" height="22" fill="#ff0000"/>
<rect x="265" y="291" width="3" height="11" fill="#ff0000"/>
<rect x="271" y="303" width="1" height="29" fill="#ff0000"/>
<rect x="270" y="304" width="3" height="10" fill="#ff0000"/>
<rect x="277" y="264" width="1" height="43" fill="#008000"/>
<rect x="276" y="268" width="4" height="39" fill="#008000"/>
<rect x="277" y="269" width="2" height="37" fill="#ffffff"/>
<rect x="282" y="248" width="1" height="25" fill="#008000"/>
<rect x="281" y="259" width="4" height="8" fill="#008000"/>
<rect x="282" y="260" width="2" height="6" fill="#ffffff"/>
<rect x="287" y="252" width="1" height="21" fill="#ff0000"/>
<rect x="286" y="259" width="3" height="10" fill="#ff0000"/>
<rect x="292" y="262" width="1" height="21" fill="#008000"/>
<rect x="291" y="265" width="4" height="5" fill="#008000"/>
<rect x="292" y="266" width="2" height="3" fill="#ffffff"/>
<rect x="298" y="263" width="1" height="28" fill="#ff0000"/>
<rect x="297" y="276" width="3" height="2" fill="#ff0000"/>
<rect x="303" y="265" width="1" height="47" fill="#ff0000"/>
<rect x="302" y="276" width="3" height="19" fill="#ff0000"/>
<rect x="308" y="298" width="1" height="18" fill="#ff0000"/>
<rect x="307" y="299" width="3" height="9" fill="#ff0000"/>
<rect x="313" y="285" width="1" height="25" fill="#008000"/>
<rect x="312" y="300" width="4" height="10" fill="#008000"/>
<rect x="313" y="301" width="2" height="8" fill="#ffffff"/>
<rect x="319" y="300" width="1" height="15" fill="#ff0000"/>
<rect x="318" y="304" width="3" height="2" fill="#ff0000"/>
<rect x="324" y="292" width="1" height="22" fill="#008000"/>
<rect x="323" y="302" width="4" height="4" fill="#008000"/>
<rect x="324" y="303" width="2" height="2" fill="#ffffff"/>
<rect x="329" y="256" width="1" height="45" fill="#008000"/>
<rect x="328" y="272" width="4" height="29" fill="#008000"/>
<rect x="329" y="273" width="2" height="27" fill="#ffffff"/>
<rect x="334" y="266" width="1" height="33" fill="#ff0000"/>
<rect x="333" y="270" width="3" height="23" fill="#ff0000"/>
<rect x="340" y="291" width="1" height="27" fill="#ff0000"/>
<rect x="339" y="291" width="3" height="24" fill="#ff0000"/>
<rect x="345" y="311" width="1" height="38" fill="#ff0000"/>
<rect x="344" y="311" width="3" height="29" fill="#ff0000"/>
<rect x="350" y="327" width="1" height="55" fill="#ff0000"/>
<rect x="349" y="330" width="3" height="48" fill="#ff0000"/>
<rect x="355" y="338" width="1" height="54" fill="#008000"/>
<rect x="354" y="376" width="4" height="5" fill="#008000"/>
<rect x="355" y="377" width="2" height="3" fill="#ffffff"/>
<rect x="361" y="341" width="1" height="51" fill="#008000"/>
<rect x="360" y="346" width="4" height="28" fill="#008000"/>
<rect x="361" y="347" width="2" height="26" fill="#ffffff"/>
<rect x="366" y="328" width="1" height="36" fill="#008000"/>
<rect x="365" y="333" width="4" height="20" fill="#008000"/>
<rect x="366" y="334" width="2" height="18" fill="#ffffff"/>
<rect x="371" y="336" width="1" height="32" fill="#ff0000"/>
<rect x="370" y="337" width="3" height="28" fill="#ff0000"/>
<rect x="376" y="346" width="1" height="71" fill="#ff0000"/>
<rect x="375" y="362" width="3" height="52" fill="#ff0000"/>
<rect x="382" y="402" width="1" height="54" fill="#ff0000"/>
<rect x="381" y="419" width="3" height="9" fill="#ff0000"/>
<rect x="387" y="437" width="1" height="56" fill="#ff0000"/>
<rect x="386" y="438" width="3" height="55" fill="#ff0000"/>
<rect x="392" y="457" width="1" height="77" fill="#ff0000"/>
<rect x="391" y="502" width="4" height="5" fill="#ff0000"/>
<rect x="392" y="503" width="2" height="3" fill="#ffffff"/>
<rect x="398" y="457" width="1" height="46" fill="#008000"/>
<rect x="397" y="487" width="4" height="13" fill="#008000"/>
<rect x="398" y="488" width="2" height="11" fill="#ffffff"/>
<rect x="403" y="436" width="1" height="52" fill="#008000"/>
<rect x="402" y="471" width="4" height="17" fill="#008000"/>
<rect x="403" y="472" width="2" height="15" fill="#ffffff"/>
<rect x="408" y="455" width="1" height="47" fill="#ff0000"/>
<rect x="407" y="471" width="3" height="26" fill="#ff0000"/>
<rect x="413" y="488" width="1" height="61" fill="#008000"/>
<rect x="412" y="494" width="4" height="10" fill="#008000"/>
<rect x="413" y="495" width="2" height="8" fill="#ffffff"/>
<rect x="419" y="484" width="1" height="52" fill="#ff0000"/>
<rect x="418" y="500" width="3" height="34" fill="#ff0000"/>
<rect x="424" y="499" width="1" height="48" fill="#008000"/>
<rect x="423" y="529" width="4" height="6" fill="#008000"/>
<rect x="424" y="530" width="2" height="4" fill="#ffffff"/>
<rect x="429" y="475" width="1" height="84" fill="#008000"/>
<rect x="428" y="479" width="4" height="50" fill="#008000"/>
<rect x="429" y="480" width="2" height="48" fill="#ffffff"/>
<rect x="434" y="473" width="1" height="30" fill="#ff0000"/>
<rect x="433" y="482" width="3" height="13" fill="#ff0000"/>
<rect x="440" y="464" width="1" height="43" fill="#008000"/>
<rect x="439" y="472" width="4" height="25" fill="#008000"/>
<rect x="440" y="473" width="2" height="23" fill="#ffffff"/>
<rect x="445" y="448" width="1" height="44" fill="#ff0000"/>
<rect x="444" y="469" width="3" height="21" fill="#ff0000"/>
<rect x="450" y="487" width="1" height="31" fill="#ff0000"/>
<rect x="449" y="498" width="3" height="9" fill="#ff0000"/>
<rect x="455" y="509" width="1" height="55" fill="#ff0000"/>
<rect x="454" y="510" width="3" height="53" fill="#ff0000"/>
<rect x="461" y="548" width="1" height="70" fill="#ff0000"/>
<rect x="460" y="566" width="3" height="42" fill="#ff0000"/>
<rect x="466" y="569" width="1" height="75" fill="#ff0000"/>
<rect x="465" y="611" width="3" height="27" fill="#ff0000"/>
<rect x="471" y="643" width="1" height="69" fill="#ff0000"/>
<rect x="470" y="648" width="3" height="4" fill="#ff0000"/>
<rect x="476" y="627" width="1" height="39" fill="#008000"/>
<rect x="475" y="638" width="4" height="17" fill="#008000"/>
<rect x="476" y="639" width="2" height="15" fill="#ffffff"/>
<rect x="482" y="627" width="1" height="46" fill="#008000"/>
<rect x="481" y="629" width="3" height="2" fill="#008000"/>
<rect x="487" y="627" width="1" height="45" fill="#008000"/>
<rect x="486" y="630" width="4" height="4" fill="#008000"/>
<rect x="487" y="631" width="2" height="2" fill="#ffffff"/>
<rect x="492" y="602" width="1" height="67" fill="#ff0000"/>
<rect x="491" y="622" width="3" height="43" fill="#ff0000"/>
<rect x="497" y="649" width="1" height="60" fill="#008000"/>
<rect x="496" y="660" width="4" height="24" fill="#008000"/>
<rect x="497" y="661" width="2" height="22" fill="#ffffff"/>
<rect x="503" y="579" width="1" height="73" fill="#008000"/>
<rect x="502" y="583" width="4" height="69" fill="#008000"/>
<rect x="503" y="584" width="2" height="67" fill="#ffffff"/>
<rect x="508" y="579" width="1" height="40" fill="#ff0000"/>
<rect x="507" y="584" width="3" height="4" fill="#ff0000"/>
<rect x="513" y="529" width="1" height="69" fill="#008000"/>
<rect x="512" y="530" width="4" height="65" fill="#008000"/>
<rect x="513" y="531" width="2" height="63" fill="#ffffff"/>
<rect x="519" y="531" width="1" height="45" fill="#ff0000"/>
<rect x="518" y="535" width="3" height="9" fill="#ff0000"/>
<rect x="524" y="516" width="1" height="51" fill="#ff0000"/>
<rect x="523" y="538" width="3" height="18" fill="#ff0000"/>
<rect x="529" y="533" width="1" height="33" fill="#008000"/>
<rect x="528" y="554" width="4" height="4" fill="#008000"/>
<rect x="529" y="555" width="2" height="2" fill="#ffffff"/>
<rect x="534" y="478" width="1" height="93" fill="#008000"/>
<rect x="533" y="478" width="4" height="82" fill="#008000"/>
<rect x="534" y="479" width="2" height="80" fill="#ffffff"/>
<rect x="540" y="460" width="1" height="38" fill="#008000"/>
<rect x="539" y="469" width="4" height="3" fill="#008000"/>
<rect x="540" y="470" width="2" height="1" fill="#ffffff"/>
<rect x="545" y="460" width="1" height="54" fill="#ff0000"/>
<rect x="544" y="473" width="3" height="38" fill="#ff0000"/>
<rect x="550" y="486" width="1" height="42" fill="#ff0000"/>
<rect x="549" y="517" width="3" height="9" fill="#ff0000"/>
<rect x="555" y="514" width="1" height="33" fill="#ff0000"/>
<rect x="554" y="534" width="3" height="2" fill="#ff0000"/>
<rect x="561" y="500" width="1" height="54" fill="#008000"/>
<rect x="560" y="506" width="4" height="29" fill="#008000"/>
<rect x="561" y="507" width="2" height="27" fill="#ffffff"/>
<rect x="566" y="501" width="1" height="44" fill="#ff0000"/>
<rect x="565" y="504" width="3" height="34" fill="#ff0000"/>
<rect x="571" y="541" width="1" height="58" fill="#ff0000"/>
<rect x="570" y="544" width="3" height="42" fill="#ff0000"/>
<rect x="576" y="546" width="1" height="53" fill="#008000"/>
<rect x="575" y="566" width="4" height="24" fill="#008000"/>
<rect x="576" y="567" width="2" height="22" fill="#ffffff"/>
<rect x="582" y="536" width="1" height="35" fill="#ff0000"/>
<rect x="581" y="556" width="3" height="12" fill="#ff0000"/>
<rect x="587" y="547" width="1" height="42" fill="#ff0000"/>
<rect x="586" y="569" width="3" height="9" fill="#ff0000"/>
<rect x="592" y="540" width="1" height="51" fill="#008000"/>
<rect x="591" y="566" width="3" height="4" fill="#008000"/>
<rect x="597" y="531" width="1" height="55" fill="#008000"/>
<rect x="596" y="535" width="4" height="33" fill="#008000"/>
<rect x="597" y="536" width="2" height="31" fill="#ffffff"/>
<rect x="603" y="525" width="1" height="51" fill="#ff0000"/>
<rect x="602" y="537" width="3" height="25" fill="#ff0000"/>
<rect x="608" y="521" width="1" height="62" fill="#008000"/>
<rect x="607" y="528" width="4" height="34" fill="#008000"/>
<rect x="608" y="529" width="2" height="32" fill="#ffffff"/>
<rect x="613" y="516" width="1" height="50" fill="#ff0000"/>
<rect x="612" y="529" width="3" height="25" fill="#ff0000"/>
<rect x="618" y="546" width="1" height="25" fill="#008000"/>
<rect x="617" y="554" width="4" height="3" fill="#008000"/>
<rect x="618" y="555" width="2" height="1" fill="#ffffff"/>
<rect x="624" y="520" width="1" height="47" fill="#008000"/>
<rect x="623" y="521" width="4" height="36" fill="#008000"/>
<rect x="624" y="522" width="2" height="34" fill="#ffffff"/>
<rect x="629" y="523" width="1" height="42" fill="#ff0000"/>
<rect x="628" y="523" width="3" height="42" fill="#ff0000"/>
<rect x="634" y="532" width="1" height="38" fill="#008000"/>
<rect x="633" y="554" width="4" height="12" fill="#008000"/>
<rect x="634" y="555" width="2" height="10" fill="#ffffff"/>
<rect x="640" y="537" width="1" height="34" fill="#ff0000"/>
<rect x="639" y="547" width="3" height="8" fill="#ff0000"/>
<rect x="645" y="538" width="1" height="37" fill="#008000"/>
<rect x="644" y="540" width="4" height="18" fill="#008000"/>
<rect x="645" y="541" width="2" height="16" fill="#ffffff"/>
<rect x="650" y="532" width="1" height="22" fill="#008000"/>
<rect x="649" y="533" width="3" height="6" fill="#008000"/>
<rect x="655" y="495" width="1" height="58" fill="#008000"/>
<rect x="654" y="507" width="4" height="29" fill="#008000"/>
<rect x="655" y="508" width="2" height="27" fill="#ffffff"/>
<rect x="661" y="500" width="1" height="32" fill="#ff0000"/>
<rect x="660" y="507" width="3" height="5" fill="#ff0000"/>
<rect x="666" y="492" width="1" height="25" fill="#008000"/>
<rect x="665" y="497" width="4" height="16" fill="#008000"/>
<rect x="666" y="498" width="2" height="14" fill="#ffffff"/>
<rect x="671" y="476" width="1" height="40" fill="#008000"/>
<rect x="670" y="490" width="4" height="11" fill="#008000"/>
<rect x="671" y="491" width="2" height="9" fill="#ffffff"/>
<rect x="676" y="488" width="1" height="40" fill="#ff0000"/>
<rect x="675" y="494" width="3" height="28" fill="#ff0000"/>
<rect x="682" y="512" width="1" height="19" fill="#008000"/>
<rect x="681" y="514" width="4" height="10" fill="#008000"/>
<rect x="682" y="515" width="2" height="8" fill="#ffffff"/>
<rect x="687" y="519" width="1" height="32" fill="#ff0000"/>
<rect x="686" y="520" width="3" height="31" fill="#ff0000"/>
<rect x="692" y="531" width="1" height="18" fill="#008000"/>
<rect x="691" y="536" width="4" height="8" fill="#008000"/>
<rect x="692" y="537" width="2" height="6" fill="#ffffff"/>
<rect x="697" y="532" width="1" height="76" fill="#ff0000"/>
<rect x="696" y="533" width="3" height="61" fill="#ff0000"/>
<rect x="703" y="562" width="1" height="38" fill="#008000"/>
<rect x="702" y="588" width="4" height="12" fill="#008000"/>
<rect x="703" y="589" width="2" height="10" fill="#ffffff"/>
<rect x="708" y="581" width="1" height="39" fill="#ff0000"/>
<rect x="707" y="585" width="3" height="21" fill="#ff0000"/>
<rect x="713" y="586" width="1" height="20" fill="#008000"/>
<rect x="712" y="590" width="4" height="12" fill="#008000"/>
<rect x="713" y="591" width="2" height="10" fill="#ffffff"/>
<rect x="718" y="580" width="1" height="21" fill="#008000"/>
<rect x="717" y="585" width="4" height="7" fill="#008000"/>
<rect x="718" y="586" width="2" height="5" fill="#ffffff"/>
<rect x="724" y="561" width="1" height="34" fill="#008000"/>
<rect x="723" y="575" width="4" height="12" fill="#008000"/>
<rect x="724" y="576" width="2" height="10" fill="#ffffff"/>
<rect x="729" y="541" width="1" height="27" fill="#008000"/>
<rect x="728" y="545" width="4" height="21" fill="#008000"/>
<rect x="729" y="546" width="2" height="19" fill="#ffffff"/>
<rect x="734" y="545" width="1" height="31" fill="#ff0000"/>
<rect x="733" y="546" width="3" height="14" fill="#ff0000"/>
<rect x="739" y="519" width="1" height="46" fill="#008000"/>
<rect x="738" y="523" width="4" height="37" fill="#008000"/>
<rect x="739" y="524" width="2" height="35" fill="#ffffff"/>
<rect x="745" y="506" width="1" height="27" fill="#008000"/>
<rect x="744" y="522" width="3" height="2" fill="#008000"/>
<rect x="750" y="502" width="1" height="37" fill="#ff0000"/>
<rect x="749" y="521" width="3" height="2" fill="#ff0000"/>
<rect x="755" y="494" width="1" height="49" fill="#ff0000"/>
<rect x="754" y="520" width="3" height="11" fill="#ff0000"/>
<rect x="761" y="516" width="1" height="26" fill="#008000"/>
<rect x="760" y="516" width="4" height="14" fill="#008000"/>
<rect x="761" y="517" width="2" height="12" fill="#ffffff"/>
<rect x="766" y="500" width="1" height="20" fill="#008000"/>
<rect x="765" y="508" width="4" height="12" fill="#008000"/>
<rect x="766" y="509" width="2" height="10" fill="#ffffff"/>
<rect x="771" y="487" width="1" height="23" fill="#008000"/>
<rect x="770" y="503" width="3" height="5" fill="#008000"/>
<rect x="776" y="505" width="1" height="22" fill="#ff0000"/>
<rect x="775" y="510" width="3" height="15" fill="#ff0000"/>
<rect x="782" y="527" width="1" height="20" fill="#ff0000"/>
<rect x="781" y="528" width="3" height="11" fill="#ff0000"/>
<rect x="787" y="536" width="1" height="19" fill="#ff0000"/>
<rect x="786" y="539" width="3" height="10" fill="#ff0000"/>
<rect x="792" y="523" width="1" height="27" fill="#008000"/>
<rect x="791" y="530" width="4" height="20" fill="#008000"/>
<rect x="792" y="531" width="2" height="18" fill="#ffffff"/>
<rect x="797" y="514" width="1" height="18" fill="#008000"/>
<rect x="796" y="525" width="3" height="2" fill="#008000"/>
<rect x="803" y="524" width="1" height="27" fill="#ff0000"/>
<rect x="802" y="525" width="3" height="9" fill="#ff0000"/>
<rect x="808" y="530" width="1" height="23" fill="#ff0000"/>
<rect x="807" y="533" width="3" height="20" fill="#ff0000"/>
<rect x="813" y="553" width="1" height="21" fill="#ff0000"/>
<rect x="812" y="554" width="3" height="8" fill="#ff0000"/>
<rect x="818" y="559" width="1" height="33" fill="#ff0000"/>
<rect x="817" y="567" width="3" height="13" fill="#ff0000"/>
<rect x="824" y="563" width="1" height="22" fill="#008000"/>
<rect x="823" y="571" width="4" height="10" fill="#008000"/>
<rect x="824" y="572" width="2" height="8" fill="#ffffff"/>
<rect x="829" y="553" width="1" height="21" fill="#008000"/>
<rect x="828" y="553" width="4" height="16" fill="#008000"/>
<rect x="829" y="554" width="2" height="14" fill="#ffffff"/>
<rect x="834" y="552" width="1" height="23" fill="#ff0000"/>
<rect x="833" y="555" width="3" height="16" fill="#ff0000"/>
<rect x="839" y="559" width="1" height="27" fill="#ff0000"/>
<rect x="838" y="569" width="3" height="14" fill="#ff0000"/>
<rect x="845" y="580" width="1" height="37" fill="#ff0000"/>
<rect x="844" y="584" width="3" height="31" fill="#ff0000"/>
<rect x="850" y="601" width="1" height="25" fill="#008000"/>
<rect x="849" y="616" width="4" height="4" fill="#008000"/>
<rect x="850" y="617" width="2" height="2" fill="#ffffff"/>
<rect x="855" y="615" width="1" height="32" fill="#ff0000"/>
<rect x="854" y="615" width="3" height="6" fill="#ff0000"/>
<rect x="860" y="615" width="1" height="39" fill="#ff0000"/>
<rect x="859" y="626" width="3" height="17" fill="#ff0000"/>
<rect x="866" y="627" width="1" height="42" fill="#ff0000"/>
<rect x="865" y="643" width="3" height="23" fill="#ff0000"/>
<rect x="871" y="662" width="1" height="29" fill="#ff0000"/>
<rect x="870" y="672" width="3" height="19" fill="#ff0000"/>
<rect x="876" y="622" width="1" height="72" fill="#008000"/>
<rect x="875" y="628" width="4" height="59" fill="#008000"/>
<rect x="876" y="629" width="2" height="57" fill="#ffffff"/>
<rect x="882" y="623" width="1" height="55" fill="#ff0000"/>
<rect x="881" y="625" width="3" height="41" fill="#ff0000"/>
<rect x="887" y="612" width="1" height="71" fill="#008000"/>
<rect x="886" y="618" width="4" height="54" fill="#008000"/>
<rect x="887" y="619" width="2" height="52" fill="#ffffff"/>
<rect x="892" y="603" width="1" height="20" fill="#008000"/>
<rect x="891" y="610" width="4" height="8" fill="#008000"/>
<rect x="892" y="611" width="2" height="6" fill="#ffffff"/>
<rect x="897" y="577" width="1" height="46" fill="#008000"/>
<rect x="896" y="578" width="4" height="35" fill="#008000"/>
<rect x="897" y="579" width="2" height="33" fill="#ffffff"/>
<rect x="903" y="553" width="1" height="29" fill="#008000"/>
<rect x="902" y="566" width="4" height="14" fill="#008000"/>
<rect x="903" y="567" width="2" height="12" fill="#ffffff"/>
<rect x="908" y="514" width="1" height="66" fill="#008000"/>
<rect x="907" y="521" width="4" height="46" fill="#008000"/>
<rect x="908" y="522" width="2" height="44" fill="#ffffff"/>
<rect x="913" y="504" width="1" height="39" fill="#008000"/>
<rect x="912" y="508" width="4" height="17" fill="#008000"/>
<rect x="913" y="509" width="2" height="15" fill="#ffffff"/>
<rect x="918" y="480" width="1" height="25" fill="#008000"/>
<rect x="917" y="497" width="4" height="4" fill="#008000"/>
<rect x="918" y="498" width="2" height="2" fill="#ffffff"/>
<rect x="924" y="481" width="1" height="32" fill="#008000"/>
<rect x="923" y="497" width="4" height="7" fill="#008000"/>
<rect x="924" y="498" width="2" height="5" fill="#ffffff"/>
<rect x="929" y="465" width="1" height="44" fill="#008000"/>
<rect x="928" y="490" width="4" height="14" fill="#008000"/>
<rect x="929" y="491" width="2" height="12" fill="#ffffff"/>
<rect x="934" y="495" width="1" height="24" fill="#ff0000"/>
<rect x="933" y="495" width="3" height="17" fill="#ff0000"/>
<rect x="939" y="490" width="1" height="20" fill="#008000"/>
<rect x="938" y="504" width="4" height="5" fill="#008000"/>
<rect x="939" y="505" width="2" height="3" fill="#ffffff"/>
<rect x="945" y="486" width="1" height="28" fill="#ff0000"/>
<rect x="944" y="505" width="3" height="2" fill="#ff0000"/>
<rect x="950" y="484" width="1" height="33" fill="#008000"/>
<rect x="949" y="486" width="4" height="26" fill="#008000"/>
<rect x="950" y="487" width="2" height="24" fill="#ffffff"/>
<rect x="955" y="466" width="1" height="40" fill="#008000"/>
<rect x="954" y="472" width="4" height="14" fill="#008000"/>
<rect x="955" y="473" width="2" height="12" fill="#ffffff"/>
<rect x="960" y="458" width="1" height="26" fill="#008000"/>
<rect x="959" y="462" width="4" height="14" fill="#008000"/>
<rect x="960" y="463" width="2" height="12" fill="#ffffff"/>
<rect x="966" y="411" width="1" height="53" fill="#008000"/>
<rect x="965" y="422" width="4" height="42" fill="#008000"/>
<rect x="966" y="423" width="2" height="40" fill="#ffffff"/>
<rect x="971" y="411" width="1" height="32" fill="#ff0000"/>
<rect x="970" y="411" width="3" height="26" fill="#ff0000"/>
<rect x="976" y="433" width="1" height="41" fill="#ff0000"/>
<rect x="975" y="439" width="3" height="24" fill="#ff0000"/>
<rect x="981" y="446" width="1" height="33" fill="#ff0000"/>
<rect x="980" y="464" width="3" height="6" fill="#ff0000"/>
<rect x="987" y="456" width="1" height="21" fill="#008000"/>
<rect x="986" y="462" width="4" height="10" fill="#008000"/>
<rect x="987" y="463" width="2" height="8" fill="#ffffff"/>
<rect x="992" y="464" width="1" height="42" fill="#ff0000"/>
<rect x="991" y="465" width="3" height="26" fill="#ff0000"/>
<rect x="997" y="481" width="1" height="29" fill="#ff0000"/>
<rect x="996" y="490" width="3" height="15" fill="#ff0000"/>
<rect x="1003" y="503" width="1" height="49" fill="#ff0000"/>
<rect x="1002" y="504" width="3" height="37" fill="#ff0000"/>
<rect x="1008" y="517" width="1" height="36" fill="#008000"/>
<rect x="1007" y="536" width="3" height="2" fill="#008000"/>
<rect x="1013" y="482" width="1" height="49" fill="#008000"/>
<rect x="1012" y="493" width="4" height="37" fill="#008000"/>
<rect x="1013" y="494" width="2" height="35" fill="#ffffff"/>
<rect x="1018" y="486" width="1" height="22" fill="#ff0000"/>
<rect x="1017" y="489" width="3" height="16" fill="#ff0000"/>
<rect x="1024" y="468" width="1" height="32" fill="#008000"/>
<rect x="1023" y="485" width="4" height="15" fill="#008000"/>
<rect x="1024" y="486" width="2" height="13" fill="#ffffff"/>
<rect x="1029" y="472" width="1" height="29" fill="#ff0000"/>
<rect x="1028" y="484" width="3" height="17" fill="#ff0000"/>
<rect x="1034" y="486" width="1" height="27" fill="#008000"/>
<rect x="1033" y="488" width="3" height="10" fill="#008000"/>
<rect x="1039" y="463" width="1" height="35" fill="#008000"/>
<rect x="1038" y="484" width="4" height="10" fill="#008000"/>
<rect x="1039" y="485" width="2" height="8" fill="#ffffff"/>
<rect x="1045" y="458" width="1" height="39" fill="#008000"/>
<rect x="1044" y="481" width="4" height="10" fill="#008000"/>
<rect x="1045" y="482" width="2" height="8" fill="#ffffff"/>
<rect x="1050" y="476" width="1" height="25" fill="#008000"/>
<rect x="1049" y="477" width="4" height="9" fill="#008000"/>
<rect x="1050" y="478" width="2" height="7" fill="#ffffff"/>
<rect x="1055" y="464" width="1" height="20" fill="#008000"/>
<rect x="1054" y="472" width="3" height="3" fill="#008000"/>
<rect x="1060" y="464" width="1" height="27" fill="#ff0000"/>
<rect x="1059" y="476" width="3" height="6" fill="#ff0000"/>
<rect x="1066" y="431" width="1" height="46" fill="#008000"/>
<rect x="1065" y="437" width="4" height="38" fill="#008000"/>
<rect x="1066" y="438" width="2" height="36" fill="#ffffff"/>
<rect x="1071" y="417" width="1" height="32" fill="#ff0000"/>
<rect x="1070" y="436" width="3" height="10" fill="#ff0000"/>
<rect x="1076" y="413" width="1" height="34" fill="#008000"/>
<rect x="1075" y="422" width="4" height="21" fill="#008000"/>
<rect x="1076" y="423" width="2" height="19" fill="#ffffff"/>
<rect x="1081" y="420" width="1" height="43" fill="#ff0000"/>
<rect x="1080" y="422" width="3" height="30" fill="#ff0000"/>
<rect x="1087" y="454" width="1" height="33" fill="#ff0000"/>
<rect x="1086" y="458" width="4" height="29" fill="#ff0000"/>
<rect x="1087" y="459" width="2" height="27" fill="#ffffff"/>
<rect x="1092" y="441" width="1" height="23" fill="#008000"/>
<rect x="1091" y="444" width="4" height="14" fill="#008000"/>
<rect x="1092" y="445" width="2" height="12" fill="#ffffff"/>
<rect x="1097" y="417" width="1" height="29" fill="#008000"/>
<rect x="1096" y="422" width="4" height="24" fill="#008000"/>
<rect x="1097" y="423" width="2" height="22" fill="#ffffff"/>
<rect x="1102" y="417" width="1" height="15" fill="#ff0000"/>
<rect x="1101" y="419" width="3" height="5" fill="#ff0000"/>
<rect x="1108" y="415" width="1" height="43" fill="#ff0000"/>
<rect x="1107" y="425" width="3" height="27" fill="#ff0000"/>
<rect x="1113" y="423" width="1" height="28" fill="#008000"/>
<rect x="1112" y="424" width="4" height="26" fill="#008000"/>
<rect x="1113" y="425" width="2" height="24" fill="#ffffff"/>
<rect x="1118" y="411" width="1" height="19" fill="#008000"/>
<rect x="1117" y="422" width="3" height="2" fill="#008000"/>
<rect x="1124" y="419" width="1" height="27" fill="#ff0000"/>
<rect x="1123" y="421" width="3" height="19" fill="#ff0000"/>
<rect x="1129" y="433" width="1" height="19" fill="#ff0000"/>
<rect x="1128" y="442" width="3" height="4" fill="#ff0000"/>
<rect x="1134" y="438" width="1" height="22" fill="#008000"/>
<rect x="1133" y="439" width="4" height="6" fill="#008000"/>
<rect x="1134" y="440" width="2" height="4" fill="#ffffff"/>
<rect x="1139" y="428" width="1" height="15" fill="#008000"/>
<rect x="1138" y="432" width="4" height="10" fill="#008000"/>
<rect x="1139" y="433" width="2" height="8" fill="#ffffff"/>
<rect x="1145" y="433" width="1" height="21" fill="#ff0000"/>
<rect x="1144" y="434" width="3" height="14" fill="#ff0000"/>
<rect x="1150" y="434" width="1" height="16" fill="#008000"/>
<rect x="1149" y="435" width="4" height="8" fill="#008000"/>
<rect x="1150" y="436" width="2" height="6" fill="#ffffff"/>
<rect x="1155" y="407" width="1" height="36" fill="#008000"/>
<rect x="1154" y="407" width="4" height="32" fill="#008000"/>
<rect x="1155" y="408" width="2" height="30" fill="#ffffff"/>
<rect x="1160" y="400" width="1" height="82" fill="#ff0000"/>
<rect x="1159" y="404" width="3" height="77" fill="#ff0000"/>
<rect x="1166" y="451" width="1" height="37" fill="#008000"/>
<rect x="1165" y="453" width="4" height="27" fill="#008000"/>
<rect x="1166" y="454" width="2" height="25" fill="#ffffff"/>
<rect x="1171" y="430" width="1" height="19" fill="#008000"/>
<rect x="1170" y="433" width="4" height="13" fill="#008000"/>
<rect x="1171" y="434" width="2" height="11" fill="#ffffff"/>
<rect x="1176" y="433" width="1" height="16" fill="#ff0000"/>
<rect x="1175" y="435" width="3" height="2" fill="#ff0000"/>
<rect x="1181" y="431" width="1" height="45" fill="#ff0000"/>
<rect x="1180" y="436" width="3" height="35" fill="#ff0000"/>
<rect x="1187" y="458" width="1" height="44" fill="#ff0000"/>
<rect x="1186" y="471" width="3" height="13" fill="#ff0000"/>
<rect x="1192" y="474" width="1" height="16" fill="#008000"/>
<rect x="1191" y="484" width="3" height="2" fill="#008000"/>
<rect x="1197" y="475" width="1" height="22" fill="#008000"/>
<rect x="1196" y="477" width="4" height="14" fill="#008000"/>
<rect x="1197" y="478" width="2" height="12" fill="#ffffff"/>
<rect x="1202" y="465" width="1" height="35" fill="#ff0000"/>
<rect x="1201" y="476" width="3" height="20" fill="#ff0000"/>
<rect x="1208" y="493" width="1" height="23" fill="#ff0000"/>
<rect x="1207" y="502" width="3" height="4" fill="#ff0000"/>
<rect x="1213" y="470" width="1" height="32" fill="#008000"/>
<rect x="1212" y="477" width="4" height="24" fill="#008000"/>
<rect x="1213" y="478" width="2" height="22" fill="#ffffff"/>
<rect x="1218" y="462" width="1" height="19" fill="#008000"/>
<rect x="1217" y="476" width="4" height="5" fill="#008000"/>
<rect x="1218" y="477" width="2" height="3" fill="#ffffff"/>
<rect x="1223" y="462" width="1" height="28" fill="#ff0000"/>
<rect x="1222" y="485" width="4" height="5" fill="#ff0000"/>
<rect x="1223" y="486" width="2" height="3" fill="#ffffff"/>
<rect x="1229" y="476" width="1" height="30" fill="#008000"/>
<rect x="1228" y="481" width="3" height="2" fill="#008000"/>
<rect x="1234" y="468" width="1" height="18" fill="#008000"/>
<rect x="1233" y="481" width="3" height="2" fill="#008000"/>
<rect x="1239" y="482" width="1" height="36" fill="#ff0000"/>
<rect x="1238" y="483" width="3" height="18" fill="#ff0000"/>
<rect x="1245" y="497" width="1" height="35" fill="#ff0000"/>
<rect x="1244" y="501" width="3" height="9" fill="#ff0000"/>
<rect x="1250" y="504" width="1" height="28" fill="#ff0000"/>
<rect x="1249" y="512" width="4" height="7" fill="#ff0000"/>
<rect x="1250" y="513" width="2" height="5" fill="#ffffff"/>
<rect x="1255" y="500" width="1" height="21" fill="#ff0000"/>
<rect x="1254" y="512" width="4" height="3" fill="#ff0000"/>
<rect x="1255" y="513" width="2" height="1" fill="#ffffff"/>
<rect x="1260" y="499" width="1" height="34" fill="#ff0000"/>
<rect x="1259" y="507" width="3" height="23" fill="#ff0000"/>
<rect x="1266" y="549" width="1" height="71" fill="#ff0000"/>
<rect x="1265" y="551" width="3" height="59" fill="#ff0000"/>
<rect x="1271" y="592" width="1" height="28" fill="#008000"/>
<rect x="1270" y="604" width="4" height="16" fill="#008000"/>
<rect x="1271" y="605" width="2" height="14" fill="#ffffff"/>
<rect x="1276" y="580" width="1" height="28" fill="#008000"/>
<rect x="1275" y="591" width="3" height="1" fill="#008000"/>
<rect x="1281" y="553" width="1" height="49" fill="#008000"/>
<rect x="1280" y="560" width="4" height="38" fill="#008000"/>
<rect x="1281" y="561" width="2" height="36" fill="#ffffff"/>
<rect x="1287" y="531" width="1" height="28" fill="#008000"/>
<rect x="1286" y="536" width="4" height="21" fill="#008000"/>
<rect x="1287" y="537" width="2" height="19" fill="#ffffff"/>
<rect x="1292" y="537" width="1" height="57" fill="#ff0000"/>
<rect x="1291" y="539" width="3" height="49" fill="#ff0000"/>
<rect x="1297" y="561" width="1" height="33" fill="#008000"/>
<rect x="1296" y="569" width="4" height="8" fill="#008000"/>
<rect x="1297" y="570" width="2" height="6" fill="#ffffff"/>
<rect x="1302" y="549" width="1" height="27" fill="#008000"/>
<rect x="1301" y="569" width="4" height="7" fill="#008000"/>
<rect x="1302" y="570" width="2" height="5" fill="#ffffff"/>
<rect x="1308" y="557" width="1" height="19" fill="#008000"/>
<rect x="1307" y="562" width="3" height="5" fill="#008000"/>
<rect x="1313" y="530" width="1" height="35" fill="#008000"/>
<rect x="1312" y="531" width="4" height="30" fill="#008000"/>
<rect x="1313" y="532" width="2" height="28" fill="#ffffff"/>
<rect x="1318" y="519" width="1" height="22" fill="#ff0000"/>
<rect x="1317" y="526" width="3" height="10" fill="#ff0000"/>
<rect x="1323" y="533" width="1" height="17" fill="#ff0000"/>
<rect x="1322" y="535" width="3" height="9" fill="#ff0000"/>
<rect x="1329" y="532" width="1" height="23" fill="#008000"/>
<rect x="1328" y="540" width="4" height="4" fill="#008000"/>
<rect x="1329" y="541" width="2" height="2" fill="#ffffff"/>
<rect x="1334" y="523" width="1" height="24" fill="#008000"/>
<rect x="1333" y="524" width="4" height="15" fill="#008000"/>
<rect x="1334" y="525" width="2" height="13" fill="#ffffff"/>
<rect x="1339" y="502" width="1" height="38" fill="#008000"/>
<rect x="1338" y="512" width="4" height="16" fill="#008000"/>
<rect x="1339" y="513" width="2" height="14" fill="#ffffff"/>
<rect x="1344" y="499" width="1" height="22" fill="#ff0000"/>
<rect x="1343" y="514" width="3" height="4" fill="#ff0000"/>
<rect x="1350" y="501" width="1" height="22" fill="#008000"/>
<rect x="1349" y="508" width="4" height="9" fill="#008000"/>
<rect x="1350" y="509" width="2" height="7" fill="#ffffff"/>
<rect x="1355" y="505" width="1" height="25" fill="#ff0000"/>
<rect x="1354" y="508" width="3" height="12" fill="#ff0000"/>
<rect x="1360" y="510" width="1" height="19" fill="#ff0000"/>
<rect x="1359" y="520" width="3" height="3" fill="#ff0000"/>
<rect x="1366" y="488" width="1" height="39" fill="#008000"/>
<rect x="1365" y="488" width="4" height="39" fill="#008000"/>
<rect x="1366" y="489" width="2" height="37" fill="#ffffff"/>
<rect x="1371" y="480" width="1" height="25" fill="#008000"/>
<rect x="1370" y="488" width="4" height="3" fill="#008000"/>
<rect x="1371" y="489" width="2" height="1" fill="#ffffff"/>
<rect x="1376" y="485" width="1" height="17" fill="#ff0000"/>
<rect x="1375" y="487" width="3" height="7" fill="#ff0000"/>
<rect x="1381" y="457" width="1" height="28" fill="#008000"/>
<rect x="1380" y="458" width="4" height="27" fill="#008000"/>
<rect x="1381" y="459" width="2" height="25" fill="#ffffff"/>
<rect x="1387" y="456" width="1" height="14" fill="#ff0000"/>
<rect x="1386" y="461" width="3" height="5" fill="#ff0000"/>
<rect x="1392" y="449" width="1" height="27" fill="#008000"/>
<rect x="1391" y="457" width="4" height="11" fill="#008000"/>
<rect x="1392" y="458" width="2" height="9" fill="#ffffff"/>
<rect x="1397" y="442" width="1" height="17" fill="#008000"/>
<rect x="1396" y="443" width="4" height="13" fill="#008000"/>
<rect x="1397" y="444" width="2" height="11" fill="#ffffff"/>
<rect x="1402" y="407" width="1" height="36" fill="#008000"/>
<rect x="1401" y="410" width="4" height="32" fill="#008000"/>
<rect x="1402" y="411" width="2" height="30" fill="#ffffff"/>
<rect x="1408" y="390" width="1" height="26" fill="#008000"/>
<rect x="1407" y="402" width="4" height="5" fill="#008000"/>
<rect x="1408" y="403" width="2" height="3" fill="#ffffff"/>
<rect x="1413" y="370" width="1" height="42" fill="#008000"/>
<rect x="1412" y="387" width="4" height="16" fill="#008000"/>
<rect x="1413" y="388" width="2" height="14" fill="#ffffff"/>
<rect x="1418" y="372" width="1" height="22" fill="#008000"/>
<rect x="1417" y="381" width="3" height="3" fill="#008000"/>
<rect x="1423" y="358" width="1" height="18" fill="#008000"/>
<rect x="1422" y="362" width="4" height="14" fill="#008000"/>
<rect x="1423" y="363" width="2" height="12" fill="#ffffff"/>
<rect x="1429" y="365" width="1" height="30" fill="#ff0000"/>
<rect x="1428" y="370" width="3" height="11" fill="#ff0000"/>
<rect x="1434" y="347" width="1" height="32" fill="#008000"/>
<rect x="1433" y="354" width="4" height="21" fill="#008000"/>
<rect x="1434" y="355" width="2" height="19" fill="#ffffff"/>
<rect x="1439" y="335" width="1" height="24" fill="#008000"/>
<rect x="1438" y="342" width="4" height="16" fill="#008000"/>
<rect x="1439" y="343" width="2" height="14" fill="#ffffff"/>
<rect x="1444" y="308" width="1" height="31" fill="#008000"/>
<rect x="1443" y="310" width="4" height="29" fill="#008000"/>
<rect x="1444" y="311" width="2" height="27" fill="#ffffff"/>
<rect x="1450" y="304" width="1" height="32" fill="#008000"/>
<rect x="1449" y="308" width="4" height="8" fill="#008000"/>
<rect x="1450" y="309" width="2" height="6" fill="#ffffff"/>
<rect x="1455" y="296" width="1" height="26" fill="#ff0000"/>
<rect x="1454" y="300" width="3" height="9" fill="#ff0000"/>
<rect x="1460" y="303" width="1" height="24" fill="#008000"/>
<rect x="1459" y="308" width="3" height="1" fill="#008000"/>
<rect x="1465" y="293" width="1" height="17" fill="#008000"/>
<rect x="1464" y="301" width="4" height="8" fill="#008000"/>
<rect x="1465" y="302" width="2" height="6" fill="#ffffff"/>
<rect x="1471" y="303" width="1" height="20" fill="#ff0000"/>
<rect x="1470" y="305" width="3" height="12" fill="#ff0000"/>
<rect x="1476" y="281" width="1" height="52" fill="#008000"/>
<rect x="1475" y="303" width="4" height="16" fill="#008000"/>
<rect x="1476" y="304" width="2" height="14" fill="#ffffff"/>
<rect x="1481" y="290" width="1" height="27" fill="#ff0000"/>
<rect x="1480" y="304" width="3" height="2" fill="#ff0000"/>
<rect x="1487" y="268" width="1" height="50" fill="#008000"/>
<rect x="1486" y="286" width="4" height="28" fill="#008000"/>
<rect x="1487" y="287" width="2" height="26" fill="#ffffff"/>
<rect x="1492" y="278" width="1" height="28" fill="#ff0000"/>
<rect x="1491" y="292" width="3" height="10" fill="#ff0000"/>
<rect x="1497" y="279" width="1" height="43" fill="#008000"/>
<rect x="1496" y="298" width="4" height="8" fill="#008000"/>
<rect x="1497" y="299" width="2" height="6" fill="#ffffff"/>
<rect x="1502" y="291" width="1" height="25" fill="#ff0000"/>
<rect x="1501" y="300" width="3" height="11" fill="#ff0000"/>
<rect x="1508" y="292" width="1" height="22" fill="#008000"/>
<rect x="1507" y="301" width="4" height="11" fill="#008000"/>
<rect x="1508" y="302" width="2" height="9" fill="#ffffff"/>
<rect x="1513" y="272" width="1" height="28" fill="#008000"/>
<rect x="1512" y="286" width="4" height="13" fill="#008000"/>
<rect x="1513" y="287" width="2" height="11" fill="#ffffff"/>
</g>
<g clip-path="url(#cpPrice)">
<line x1="88" y1="103.5" x2="1638" y2="103.5" stroke="#c0c0c0" stroke-width="1"/>
<line x1="88" y1="269.5" x2="1638" y2="269.5" stroke="#c0c0c0" stroke-width="1"/>
<line x1="88" y1="711.5" x2="1638" y2="711.5" stroke="#c0c0c0" stroke-width="1"/>
<path d="M288,467 C285,788.4 1443,788.4 1440,467" fill="none" stroke="#008000" stroke-width="1.9"/>
<line x1="1406" y1="298.4" x2="1572.8" y2="273.5" stroke="#0000ff" stroke-width="3"/>
<line x1="1414" y1="334.6" x2="1580.7" y2="309.7" stroke="#0000ff" stroke-width="3"/>
</g>
<text x="1643.5" y="111.6" font-size="26" fill="#bfbfbf" textLength="90.0" lengthAdjust="spacingAndGlyphs">175.118</text>
<text x="1762.5" y="111.6" font-size="26" fill="#bfbfbf" textLength="55.5" lengthAdjust="spacingAndGlyphs">Start</text>
<text x="1643.5" y="277.5" font-size="26" fill="#bfbfbf" textLength="90.0" lengthAdjust="spacingAndGlyphs">131.878</text>
<text x="1762.5" y="277.5" font-size="26" fill="#bfbfbf" textLength="69.0" lengthAdjust="spacingAndGlyphs">61.8%</text>
<text x="1643.5" y="719.7" font-size="26" fill="#bfbfbf" textLength="76.0" lengthAdjust="spacingAndGlyphs">61.926</text>
<text x="1749.5" y="719.7" font-size="26" fill="#bfbfbf" textLength="41.5" lengthAdjust="spacingAndGlyphs">End</text>
<text x="686.2" y="165.4" font-size="40" fill="#000" textLength="72.6" lengthAdjust="spacingAndGlyphs">S&amp;P</text>
<text x="773.5" y="165.4" font-size="40" fill="#000" textLength="134.8" lengthAdjust="spacingAndGlyphs">Biotech</text>
<text x="923.3" y="165.4" font-size="40" fill="#000" textLength="61.3" lengthAdjust="spacingAndGlyphs">ETF</text>
<text x="996.0" y="165.4" font-size="40" fill="#000" textLength="84.3" lengthAdjust="spacingAndGlyphs">(XBI)</text>
<text x="735.3" y="808.6" font-size="30" fill="#000" textLength="98.1" lengthAdjust="spacingAndGlyphs">Weekly</text>
<text x="843.7" y="808.6" font-size="30" fill="#000" textLength="97.6" lengthAdjust="spacingAndGlyphs">Strazza</text>
<text x="952.6" y="808.6" font-size="30" fill="#000" textLength="122.1" lengthAdjust="spacingAndGlyphs">Indicator</text>
<rect x="6.5" y="23.5" width="1993" height="1116" rx="1.8" ry="1.8" fill="none" stroke="#c8c8c8" stroke-width="1"/>
<line x1="7" y1="739.5" x2="1999" y2="739.5" stroke="#c8c8c8" stroke-width="1"/>
<line x1="7" y1="1098.5" x2="1999" y2="1098.5" stroke="#c8c8c8" stroke-width="1"/>
<line x1="1897.5" y1="24" x2="1897.5" y2="1098" stroke="#c8c8c8" stroke-width="1"/>
<line x1="369.5" y1="1098" x2="369.5" y2="1139" stroke="#c8c8c8" stroke-width="1"/>
<line x1="918.5" y1="1098" x2="918.5" y2="1139" stroke="#c8c8c8" stroke-width="1"/>
<line x1="1467.5" y1="1098" x2="1467.5" y2="1139" stroke="#c8c8c8" stroke-width="1"/>
<g clip-path="url(#cpAxis1)">
<line x1="1897" y1="87.5" x2="1905" y2="87.5" stroke="#2a2a2a" stroke-width="1.4"/>
<text x="1906.5" y="97.3" font-size="31.3" fill="#1c1c1c" textLength="91.7" lengthAdjust="spacingAndGlyphs">180.00</text>
<line x1="1897" y1="121.0" x2="1905" y2="121.0" stroke="#2a2a2a" stroke-width="1.4"/>
<text x="1906.5" y="130.8" font-size="31.3" fill="#1c1c1c" textLength="91.7" lengthAdjust="spacingAndGlyphs">170.00</text>
<line x1="1897" y1="156.4" x2="1905" y2="156.4" stroke="#2a2a2a" stroke-width="1.4"/>
<text x="1906.5" y="166.2" font-size="31.3" fill="#1c1c1c" textLength="91.7" lengthAdjust="spacingAndGlyphs">160.00</text>
<line x1="1897" y1="194.2" x2="1905" y2="194.2" stroke="#2a2a2a" stroke-width="1.4"/>
<text x="1906.5" y="204.0" font-size="31.3" fill="#1c1c1c" textLength="91.7" lengthAdjust="spacingAndGlyphs">150.00</text>
<line x1="1897" y1="234.6" x2="1905" y2="234.6" stroke="#2a2a2a" stroke-width="1.4"/>
<text x="1906.5" y="244.4" font-size="31.3" fill="#1c1c1c" textLength="91.7" lengthAdjust="spacingAndGlyphs">140.00</text>
<line x1="1897" y1="277.9" x2="1905" y2="277.9" stroke="#2a2a2a" stroke-width="1.4"/>
<line x1="1897" y1="324.7" x2="1905" y2="324.7" stroke="#2a2a2a" stroke-width="1.4"/>
<text x="1906.5" y="334.5" font-size="31.3" fill="#1c1c1c" textLength="91.7" lengthAdjust="spacingAndGlyphs">120.00</text>
<line x1="1897" y1="375.6" x2="1905" y2="375.6" stroke="#2a2a2a" stroke-width="1.4"/>
<text x="1906.5" y="385.4" font-size="31.3" fill="#1c1c1c" textLength="91.7" lengthAdjust="spacingAndGlyphs">110.00</text>
<line x1="1897" y1="431.4" x2="1905" y2="431.4" stroke="#2a2a2a" stroke-width="1.4"/>
<text x="1906.5" y="441.2" font-size="31.3" fill="#1c1c1c" textLength="91.7" lengthAdjust="spacingAndGlyphs">100.00</text>
<line x1="1897" y1="493.0" x2="1905" y2="493.0" stroke="#2a2a2a" stroke-width="1.4"/>
<text x="1906.5" y="502.8" font-size="31.3" fill="#1c1c1c" textLength="76.8" lengthAdjust="spacingAndGlyphs">90.00</text>
<line x1="1897" y1="561.9" x2="1905" y2="561.9" stroke="#2a2a2a" stroke-width="1.4"/>
<text x="1906.5" y="571.7" font-size="31.3" fill="#1c1c1c" textLength="76.8" lengthAdjust="spacingAndGlyphs">80.00</text>
<line x1="1897" y1="640.1" x2="1905" y2="640.1" stroke="#2a2a2a" stroke-width="1.4"/>
<text x="1906.5" y="649.9" font-size="31.3" fill="#1c1c1c" textLength="76.8" lengthAdjust="spacingAndGlyphs">70.00</text>
<line x1="1897" y1="730.2" x2="1905" y2="730.2" stroke="#2a2a2a" stroke-width="1.4"/>
<text x="1906.5" y="740.0" font-size="31.3" fill="#1c1c1c" textLength="76.8" lengthAdjust="spacingAndGlyphs">60.00</text>
<line x1="1897" y1="52.8" x2="1901" y2="52.8" stroke="#2a2a2a" stroke-width="1.4"/>
<text x="1906.5" y="62.6" font-size="31.3" fill="#1c1c1c" textLength="91.7" lengthAdjust="spacingAndGlyphs">191.00</text>
<line x1="1897" y1="526.5" x2="1901" y2="526.5" stroke="#2a2a2a" stroke-width="1.4"/>
<text x="1906.5" y="536.3" font-size="31.3" fill="#1c1c1c" textLength="76.8" lengthAdjust="spacingAndGlyphs">85.00</text>
<line x1="1897" y1="607.5" x2="1901" y2="607.5" stroke="#2a2a2a" stroke-width="1.4"/>
<text x="1906.5" y="617.3" font-size="31.3" fill="#1c1c1c" textLength="76.8" lengthAdjust="spacingAndGlyphs">74.00</text>
<line x1="1897" y1="692.5" x2="1901" y2="692.5" stroke="#2a2a2a" stroke-width="1.4"/>
<text x="1906.5" y="702.3" font-size="31.3" fill="#1c1c1c" textLength="76.8" lengthAdjust="spacingAndGlyphs">64.00</text>
</g>
<line x1="1898" y1="285.5" x2="1904" y2="285.5" stroke="#008000" stroke-width="1"/>
<rect x="1904" y="265.5" width="95" height="39.2" fill="#008000"/>
<g clip-path="url(#cpAxis1)"><text x="1908.5" y="294.9" font-size="31.3" fill="#fff" textLength="92" lengthAdjust="spacingAndGlyphs">128.28</text></g>
<g clip-path="url(#cpAxis2)">
<line x1="1897" y1="759.0" x2="1901" y2="759.0" stroke="#2a2a2a" stroke-width="1.4"/>
<text x="1906.5" y="768.8" font-size="31.3" fill="#1c1c1c" textLength="75.3" lengthAdjust="spacingAndGlyphs">0.800</text>
<line x1="1897" y1="800.3" x2="1901" y2="800.3" stroke="#2a2a2a" stroke-width="1.4"/>
<text x="1906.5" y="810.1" font-size="31.3" fill="#1c1c1c" textLength="75.3" lengthAdjust="spacingAndGlyphs">0.700</text>
<line x1="1897" y1="841.7" x2="1901" y2="841.7" stroke="#2a2a2a" stroke-width="1.4"/>
<text x="1906.5" y="851.5" font-size="31.3" fill="#1c1c1c" textLength="75.3" lengthAdjust="spacingAndGlyphs">0.600</text>
<line x1="1897" y1="883.0" x2="1901" y2="883.0" stroke="#2a2a2a" stroke-width="1.4"/>
<text x="1906.5" y="892.8" font-size="31.3" fill="#1c1c1c" textLength="75.3" lengthAdjust="spacingAndGlyphs">0.500</text>
<line x1="1897" y1="924.3" x2="1901" y2="924.3" stroke="#2a2a2a" stroke-width="1.4"/>
<text x="1906.5" y="934.1" font-size="31.3" fill="#1c1c1c" textLength="75.3" lengthAdjust="spacingAndGlyphs">0.400</text>
<line x1="1897" y1="965.7" x2="1901" y2="965.7" stroke="#2a2a2a" stroke-width="1.4"/>
<text x="1906.5" y="975.5" font-size="31.3" fill="#1c1c1c" textLength="75.3" lengthAdjust="spacingAndGlyphs">0.300</text>
<line x1="1897" y1="1007.0" x2="1901" y2="1007.0" stroke="#2a2a2a" stroke-width="1.4"/>
<text x="1906.5" y="1016.8" font-size="31.3" fill="#1c1c1c" textLength="75.3" lengthAdjust="spacingAndGlyphs">0.200</text>
<line x1="1897" y1="1048.4" x2="1901" y2="1048.4" stroke="#2a2a2a" stroke-width="1.4"/>
<text x="1906.5" y="1058.2" font-size="31.3" fill="#1c1c1c" textLength="75.3" lengthAdjust="spacingAndGlyphs">0.100</text>
<line x1="1897" y1="1089.7" x2="1901" y2="1089.7" stroke="#2a2a2a" stroke-width="1.4"/>
<text x="1906.5" y="1099.5" font-size="31.3" fill="#1c1c1c" textLength="75.3" lengthAdjust="spacingAndGlyphs">0.000</text>
</g>
<line x1="1897.5" y1="929" x2="1904" y2="915.5" stroke="#ff0000" stroke-width="1"/>
<line x1="1898" y1="956" x2="1904" y2="956" stroke="#008000" stroke-width="1"/>
<line x1="1898" y1="999" x2="1904" y2="999" stroke="#a9b4c2" stroke-width="1"/>
<rect x="1904" y="895.1" width="85" height="39.5" fill="#ff0000"/>
<text x="1907.6" y="925.2" font-size="30.6" fill="#ffffff" textLength="76" lengthAdjust="spacingAndGlyphs">0.389</text>
<rect x="1904" y="936.2" width="85" height="39.5" fill="#008000"/>
<text x="1907.6" y="966.3" font-size="30.6" fill="#ffffff" textLength="76" lengthAdjust="spacingAndGlyphs">0.322</text>
<rect x="1904" y="979.2" width="85" height="39.5" fill="#778899"/>
<text x="1907.6" y="1009.3" font-size="30.6" fill="#000000" textLength="76" lengthAdjust="spacingAndGlyphs">0.219</text>
<rect x="1971.5" y="23.5" width="28" height="28" rx="1.5" ry="1.5" fill="#fefefe" stroke="#dadada" stroke-width="1"/>
<rect x="1976.1" y="36.1" width="17.8" height="10.6" rx="1.2" ry="1.2" fill="#696969"/>
<path d="M1979.5,36.6 v-2.7 a5.55,5.55 0 0 1 11.1,0 v2.7" fill="none" stroke="#696969" stroke-width="2.6"/>
<path d="M1984.3,41.1 a1.4,1.4 0 1 1 1.4,0 l0.6,2.9 h-2.6 z" fill="#ffffff"/>
<rect x="1971.5" y="739.5" width="28" height="28" rx="1.5" ry="1.5" fill="#fefefe" stroke="#dadada" stroke-width="1"/>
<rect x="1976.1" y="752.1" width="17.8" height="10.6" rx="1.2" ry="1.2" fill="#696969"/>
<path d="M1979.5,752.6 v-2.7 a5.55,5.55 0 0 1 11.1,0 v2.7" fill="none" stroke="#696969" stroke-width="2.6"/>
<path d="M1984.3,757.1 a1.4,1.4 0 1 1 1.4,0 l0.6,2.9 h-2.6 z" fill="#ffffff"/>
<path d="M1999.5,558.5 H1989.5 a2,2 0 0 0 -2,2 V585.5 a2,2 0 0 0 2,2 H1999.5" fill="#fcfcfc" stroke="#d4d4d4" stroke-width="1"/>
<path d="M1995.8,568.4 L1991.3,572.7 L1995.8,577" fill="none" stroke="#808080" stroke-width="2.3"/>
<line x1="1960" y1="23.5" x2="1998" y2="23.5" stroke="#c8c8c8" stroke-width="1"/>
<line x1="1960" y1="739.5" x2="1999" y2="739.5" stroke="#c8c8c8" stroke-width="1"/>
<line x1="1999.5" y1="26" x2="1999.5" y2="1136" stroke="#c8c8c8" stroke-width="1"/>
<text x="372.0" y="1129.4" font-size="30" fill="#1c1c1c" textLength="67.5" lengthAdjust="spacingAndGlyphs">2022</text>
<text x="921.0" y="1129.4" font-size="30" fill="#1c1c1c" textLength="67.5" lengthAdjust="spacingAndGlyphs">2024</text>
<text x="1470.0" y="1129.4" font-size="30" fill="#1c1c1c" textLength="67.5" lengthAdjust="spacingAndGlyphs">2026</text>
<text x="962" y="1157.2" font-size="14" fill="#222" textLength="82" lengthAdjust="spacingAndGlyphs">26th Feb 2026</text>
<text x="1700.3" y="1005.5" font-size="23.6" font-weight="bold" fill="#14294a" stroke="#14294a" stroke-width="0.7" textLength="146.6" lengthAdjust="spacing">ALL STAR</text>
<text x="1712" y="1030.6" font-size="23.6" font-weight="bold" fill="#14294a" stroke="#14294a" stroke-width="0.7" textLength="124.7" lengthAdjust="spacing">CHARTS</text>
<polygon points="1792.4,972.1 1796.8,973.6 1800.1,970.3 1800.2,975.0 1804.3,977.2 1799.9,978.6 1799.0,983.2 1796.3,979.5 1791.7,980.1 1794.4,976.3" fill="#e51b3c"/>
<polygon points="1807.9,959.4 1811.5,962.4 1815.8,960.7 1814.1,965.0 1817.1,968.6 1812.4,968.3 1809.9,972.2 1808.8,967.7 1804.3,966.6 1808.2,964.1" fill="#e51b3c"/>
<polygon points="1827.8,953.8 1829.9,957.9 1834.6,958.0 1831.3,961.3 1832.7,965.8 1828.6,963.7 1824.8,966.4 1825.4,961.8 1821.7,959.0 1826.3,958.2" fill="#e51b3c"/>
<polygon points="1848.6,957.3 1849.0,961.9 1853.2,963.8 1848.9,965.6 1848.4,970.2 1845.4,966.7 1840.9,967.6 1843.3,963.7 1840.9,959.6 1845.5,960.7" fill="#e51b3c"/>
<polygon points="1865.7,966.7 1864.3,971.2 1867.6,974.5 1862.9,974.6 1860.8,978.7 1859.3,974.3 1854.7,973.5 1858.4,970.7 1857.7,966.1 1861.5,968.8" fill="#e51b3c"/>
<polygon points="1878.4,982.4 1875.5,986.0 1877.3,990.3 1872.9,988.6 1869.4,991.6 1869.6,986.9 1865.7,984.5 1870.2,983.3 1871.3,978.8 1873.8,982.7" fill="#e51b3c"/>
<polygon points="1884.3,1002.4 1880.2,1004.5 1880.1,1009.2 1876.8,1005.9 1872.3,1007.3 1874.4,1003.1 1871.7,999.3 1876.3,1000.0 1879.1,996.3 1879.9,1000.9" fill="#e51b3c"/>
<polygon points="1882.4,1020.4 1877.8,1021.0 1876.1,1025.4 1874.1,1021.2 1869.4,1021.0 1872.8,1017.8 1871.6,1013.3 1875.7,1015.5 1879.5,1012.9 1878.7,1017.5" fill="#e51b3c"/>
<polygon points="1874.8,1031.2 1872.2,1030.9 1870.7,1033.0 1870.2,1030.5 1867.7,1029.7 1870.0,1028.4 1870.0,1025.8 1871.9,1027.6 1874.3,1026.8 1873.2,1029.1" fill="#e51b3c"/>
<polygon points="1869.0,1038.6 1866.8,1037.8 1865.1,1039.5 1865.0,1037.1 1863.0,1036.0 1865.2,1035.3 1865.6,1032.9 1867.0,1034.8 1869.4,1034.5 1868.0,1036.4" fill="#e51b3c"/>
<polygon points="1861.8,1044.9 1859.8,1043.8 1857.8,1045.1 1858.2,1042.7 1856.4,1041.2 1858.7,1040.9 1859.6,1038.7 1860.6,1040.9 1863.0,1041.0 1861.2,1042.6" fill="#e51b3c"/>
<polygon points="1853.8,1050.4 1852.0,1048.9 1849.8,1049.7 1850.7,1047.5 1849.2,1045.7 1851.6,1045.9 1852.9,1043.9 1853.4,1046.2 1855.7,1046.8 1853.7,1048.0" fill="#e51b3c"/>
<polygon points="1844.4,1053.9 1842.9,1052.1 1840.6,1052.5 1841.9,1050.5 1840.8,1048.4 1843.1,1049.1 1844.8,1047.4 1844.8,1049.7 1846.9,1050.8 1844.7,1051.6" fill="#e51b3c"/>
<polygon points="1835.0,1055.6 1833.9,1053.5 1831.6,1053.5 1833.3,1051.8 1832.6,1049.5 1834.7,1050.6 1836.7,1049.3 1836.3,1051.6 1838.1,1053.1 1835.8,1053.4" fill="#e51b3c"/>
<polygon points="1825.4,1055.6 1824.8,1053.4 1822.5,1052.8 1824.5,1051.5 1824.3,1049.2 1826.1,1050.6 1828.3,1049.7 1827.5,1051.9 1829.0,1053.7 1826.7,1053.6" fill="#e51b3c"/>
<polygon points="1816.2,1052.8 1816.0,1050.6 1814.1,1049.8 1816.0,1048.9 1816.3,1046.8 1817.7,1048.4 1819.8,1048.0 1818.6,1049.8 1819.7,1051.7 1817.6,1051.2" fill="#e51b3c"/>
<polygon points="1809.2,1049.1 1809.4,1047.7 1808.2,1046.9 1809.5,1046.6 1809.9,1045.3 1810.6,1046.5 1812.0,1046.4 1811.1,1047.5 1811.6,1048.8 1810.3,1048.2" fill="#e51b3c"/>
<polygon points="1803.9,1046.0 1804.2,1044.6 1803.1,1043.7 1804.5,1043.5 1805.1,1042.2 1805.6,1043.5 1807.0,1043.6 1806.0,1044.6 1806.3,1045.9 1805.1,1045.2" fill="#e51b3c"/>
<polygon points="1799.4,1042.7 1799.8,1041.6 1799.0,1040.7 1800.2,1040.7 1800.8,1039.7 1801.1,1040.8 1802.3,1041.0 1801.3,1041.7 1801.5,1042.9 1800.5,1042.2" fill="#e51b3c"/>
<polygon points="1795.4,1037.7 1795.9,1036.7 1795.2,1035.7 1796.4,1035.9 1797.1,1034.9 1797.3,1036.1 1798.4,1036.5 1797.4,1037.0 1797.4,1038.2 1796.5,1037.4" fill="#e51b3c"/>
<rect x="5" y="1143" width="21" height="21" rx="2.5" ry="2.5" fill="#0d3f76"/>
<path d="M25.5,1149.5 C17,1145 9.5,1151 9.8,1158.5 C10,1161.5 11,1163 12.5,1164.2 L26.5,1164.5 L26.5,1157 Z" fill="#ffffff"/>
<circle cx="19.1" cy="1157" r="6.1" fill="#0d3f76"/>
<path d="M14.5,1153.5 C16,1150.5 20,1149.5 23.5,1151.5 C20.5,1151.2 18.5,1152.5 17.8,1154.5 Z" fill="#ffffff"/>
<text x="27.6" y="1160" font-size="18" font-weight="bold" fill="#0d3f76" textLength="58.5" lengthAdjust="spacingAndGlyphs">Optuma</text>
<circle cx="86.5" cy="1149.6" r="1.1" fill="#0d3f76"/>
<rect x="0" y="1167" width="2006" height="3" fill="#000000"/>
</svg></body></html>
